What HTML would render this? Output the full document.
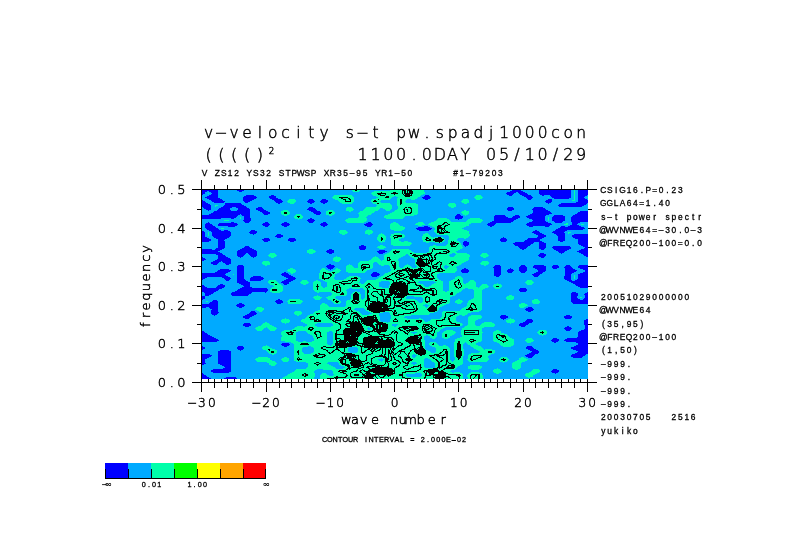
<!DOCTYPE html>
<html><head><meta charset="utf-8"><style>
html,body{margin:0;padding:0;background:#fff;width:789px;height:558px;overflow:hidden}
svg{display:block}
</style></head><body>
<svg xmlns="http://www.w3.org/2000/svg" width="789" height="558" viewBox="0 0 789 558">
<rect width="789" height="558" fill="#fff"/>
<g shape-rendering="crispEdges">
<rect x="201.95" y="189.75" width="386.05" height="189.14" fill="#00aaff"/>
<path d="M205.2,189.8 208.4,189.8 211.6,189.8 214.8,189.8 218.0,189.8 218.1,189.8 218.1,191.7 218.1,193.6 218.0,195.4 218.0,195.5 217.9,197.5 218.0,197.6 221.2,199.4 221.4,199.4 224.4,201.1 224.6,201.3 224.4,203.2 221.2,203.2 218.0,203.2 214.8,203.1 211.9,201.3 211.6,200.9 209.3,199.4 208.4,199.1 205.5,197.5 208.4,195.9 209.5,195.5 211.6,194.2 212.0,193.6 211.6,193.0 209.9,191.7 208.4,191.1 206.6,191.7 205.2,192.7 204.5,193.6 202.0,195.3 202.0,193.6 202.0,191.7 202.0,189.8 205.2,189.8ZM237.3,189.8 240.5,189.8 243.7,189.8 244.3,189.8 243.7,190.5 241.7,191.7 240.5,192.1 239.1,191.7 237.3,190.6 236.6,189.8 237.3,189.8ZM510.2,191.4 513.2,189.8 513.4,189.8 516.6,189.8 519.8,189.8 520.1,189.8 523.0,191.5 523.9,191.7 526.3,193.0 526.8,193.6 529.5,195.2 530.7,195.5 532.7,196.7 533.3,197.5 532.7,198.3 531.0,199.4 529.5,199.9 527.9,199.4 526.3,198.3 525.6,197.5 523.0,195.9 522.1,195.5 519.8,194.1 519.5,193.6 516.6,191.8 513.9,193.6 513.4,194.3 511.6,195.5 510.2,196.0 508.6,195.5 507.0,194.6 506.2,193.6 507.0,192.7 509.1,191.7 510.2,191.4ZM539.1,190.8 539.2,189.8 542.3,189.8 545.5,189.8 548.7,189.8 551.9,189.8 555.2,189.8 558.4,189.8 561.6,189.8 564.8,189.8 568.0,189.8 570.7,189.8 570.7,191.7 570.7,193.6 570.9,195.5 571.1,197.5 568.0,199.4 564.8,199.3 561.6,199.2 558.4,199.2 555.2,199.3 552.3,197.5 551.9,196.9 549.9,195.5 548.7,195.2 545.5,195.4 544.2,195.5 542.3,195.7 541.9,195.5 539.1,193.9 538.9,193.6 539.0,191.7 539.1,190.8ZM580.8,189.8 584.4,189.8 588.0,189.8 588.0,191.7 588.0,193.6 588.0,195.1 586.5,195.5 584.4,196.9 583.9,197.5 584.4,198.0 587.0,199.4 588.0,199.7 588.0,201.3 588.0,203.2 587.8,203.3 584.5,205.2 584.4,205.3 581.0,207.1 580.8,207.2 577.6,207.2 574.4,207.2 571.2,207.2 568.0,207.3 564.8,207.4 561.6,207.5 560.3,207.1 558.4,206.0 557.7,205.2 558.4,204.6 561.1,203.3 561.6,203.1 564.8,203.2 568.0,203.2 569.5,203.3 571.2,203.3 574.4,203.4 574.8,203.3 577.6,201.7 578.0,201.3 577.9,199.4 577.9,197.5 577.9,195.5 578.0,193.6 578.1,191.7 578.1,189.8 580.8,189.8ZM246.9,195.3 250.1,195.3 253.3,195.2 254.5,195.5 256.5,196.7 257.2,197.5 256.5,198.2 254.2,199.4 253.3,199.6 250.3,201.3 250.1,201.6 247.1,203.3 246.9,203.3 246.8,203.3 243.7,201.4 243.6,201.3 243.4,199.4 243.2,197.5 243.7,196.9 246.1,195.5 246.9,195.3ZM272.6,195.0 274.2,195.5 275.8,196.6 276.4,197.5 279.0,199.0 280.6,199.4 282.2,200.2 283.2,201.3 282.2,202.5 280.8,203.3 279.0,203.8 277.4,203.3 275.8,202.2 275.2,201.3 272.6,199.8 271.2,199.4 269.4,198.4 268.6,197.5 269.4,196.5 270.9,195.5 272.6,195.0ZM426.7,194.7 429.1,195.5 429.9,196.1 431.0,197.5 429.9,198.7 428.8,199.4 426.7,200.0 424.1,199.4 423.5,199.1 421.9,197.5 423.5,196.5 425.2,195.5 426.7,194.7ZM311.1,198.8 312.8,199.4 314.3,200.4 315.1,201.3 314.3,202.2 312.6,203.3 311.1,203.7 309.6,203.3 307.9,202.4 307.0,201.3 307.9,200.2 309.3,199.4 311.1,198.8ZM324.0,198.8 326.0,199.4 327.2,200.0 328.3,201.3 327.2,202.6 325.9,203.3 324.0,203.8 322.3,203.3 320.8,202.2 320.0,201.3 320.8,200.4 322.3,199.4 324.0,198.8ZM548.7,199.3 551.9,199.4 551.9,199.4 552.3,201.3 551.9,201.8 549.9,203.3 548.7,203.6 547.5,203.3 545.5,202.2 544.7,201.3 545.5,200.6 548.3,199.4 548.7,199.3ZM204.7,201.3 205.2,201.9 207.6,203.3 208.4,203.5 211.4,205.2 211.4,207.1 211.5,209.0 208.4,210.9 205.2,209.1 205.1,209.0 202.4,207.1 202.0,207.0 202.0,205.2 202.0,203.3 202.0,201.3 202.0,199.6 204.7,201.3ZM407.5,201.3 407.6,201.3 407.5,201.3 407.4,201.3 407.5,201.3ZM227.6,203.2 230.8,203.2 234.1,203.2 237.1,203.3 237.3,203.3 240.5,203.3 243.6,205.2 243.7,205.3 246.7,207.1 246.9,207.2 250.1,209.0 250.2,209.0 250.1,210.9 250.1,211.0 250.0,212.9 250.1,213.9 250.2,214.8 250.3,216.8 250.6,218.7 250.8,220.6 250.1,221.5 248.5,222.6 246.9,223.1 245.5,222.6 243.7,221.1 243.4,220.6 243.6,218.7 243.7,218.2 243.9,216.8 243.7,216.5 241.6,214.8 240.5,214.4 239.2,214.8 237.3,216.3 236.9,216.8 234.1,218.7 230.8,218.5 227.6,218.4 224.4,218.4 221.2,218.5 218.0,218.5 214.8,218.6 211.6,218.7 209.9,218.7 208.4,218.7 205.2,218.8 202.0,218.8 202.0,218.7 202.0,216.8 202.0,214.8 202.0,214.7 205.2,214.8 206.7,214.8 208.4,214.9 208.5,214.8 211.6,213.4 212.1,212.9 214.8,211.3 215.9,211.0 218.0,209.6 218.4,209.0 221.2,207.3 222.0,207.1 224.4,205.5 224.6,205.2 224.6,203.3 227.6,203.2ZM232.8,207.1 230.8,208.1 229.9,209.0 230.8,210.2 232.2,211.0 234.1,211.5 235.9,211.0 237.3,210.1 238.2,209.0 237.3,208.1 235.3,207.1 234.1,206.8 232.8,207.1ZM259.7,206.6 261.3,207.1 263.0,208.2 263.6,209.0 266.2,210.6 267.6,211.0 269.4,212.0 270.2,212.9 269.4,213.9 267.8,214.8 266.2,215.3 264.6,214.8 263.0,213.8 262.3,212.9 259.7,211.4 258.6,211.0 256.5,209.6 256.1,209.0 256.5,208.4 258.4,207.1 259.7,206.6ZM311.1,206.7 312.4,207.1 314.3,208.3 315.0,209.0 317.5,210.6 319.1,211.0 320.8,211.8 321.8,212.9 320.8,214.0 319.1,214.8 317.5,215.2 316.3,214.8 314.3,213.7 313.7,212.9 311.1,211.4 309.6,211.0 307.9,210.0 307.1,209.0 307.9,208.1 309.8,207.1 311.1,206.7ZM510.2,206.6 512.1,207.1 513.4,207.9 514.3,209.1 513.4,210.0 511.6,211.0 510.2,211.3 508.9,211.0 507.0,210.0 506.1,209.1 507.0,207.9 508.3,207.1 510.2,206.6ZM535.9,206.9 539.1,207.0 542.3,207.1 542.5,207.1 545.5,209.0 545.6,209.0 548.7,210.9 548.9,211.0 551.9,212.8 552.0,212.9 551.9,213.5 548.7,214.6 547.9,214.8 545.5,216.0 544.8,216.8 544.8,218.7 544.8,220.6 545.5,221.3 548.3,222.6 548.7,222.7 551.9,223.9 552.0,224.5 551.9,224.6 549.1,226.4 548.7,226.6 545.5,226.5 544.0,226.4 542.3,226.4 539.1,226.4 535.9,226.4 534.8,226.4 532.7,226.5 529.5,226.6 528.6,226.4 526.3,225.3 525.6,224.5 526.3,223.8 529.3,222.6 529.5,222.5 532.7,221.3 533.4,220.6 532.7,219.9 529.7,218.7 529.5,218.7 526.3,217.2 525.9,216.8 526.3,216.3 529.3,214.8 529.5,214.8 532.7,213.3 533.1,212.9 532.7,211.0 532.7,211.0 532.3,209.0 532.7,208.6 535.1,207.1 535.9,206.9ZM577.6,212.8 580.8,211.0 584.4,211.1 588.0,211.1 588.0,212.9 588.0,214.8 588.0,216.8 588.0,218.7 588.0,220.6 588.0,222.4 584.4,222.3 580.8,222.1 579.7,222.6 577.6,223.9 577.1,224.5 577.6,225.0 580.7,226.4 580.8,226.5 584.4,227.7 585.2,228.3 584.4,229.0 581.0,230.3 580.8,230.3 577.9,230.3 577.6,230.3 574.4,230.2 571.2,230.2 568.0,230.1 567.3,230.3 564.8,231.8 564.4,232.2 564.6,234.1 564.8,235.5 564.9,236.1 565.1,238.0 565.3,239.9 564.8,240.5 562.3,241.9 561.6,242.1 560.8,241.9 558.4,240.6 557.7,239.9 558.0,238.0 558.3,236.1 555.2,234.2 555.0,234.1 551.9,232.6 551.6,232.2 551.9,231.8 555.0,230.3 555.2,230.2 558.3,228.3 558.4,228.3 561.4,226.4 561.6,226.4 562.6,226.4 564.8,226.5 568.0,226.6 568.7,226.4 571.2,225.0 571.7,224.5 571.6,222.6 571.4,220.6 571.4,218.7 571.3,216.8 574.3,214.8 574.4,214.8 577.6,212.9 577.6,212.8ZM458.8,214.1 460.2,214.8 462.0,215.9 463.5,216.8 462.0,218.7 462.0,218.7 458.8,219.7 455.7,218.7 455.6,218.7 454.4,216.8 455.6,215.4 456.5,214.8 458.8,214.1ZM497.4,214.6 500.6,214.7 503.8,214.8 503.9,214.8 506.9,216.8 507.0,216.9 510.2,218.7 513.1,216.8 513.4,216.3 515.5,214.8 516.6,214.5 517.9,214.8 519.8,216.0 520.5,216.8 519.8,217.5 517.9,218.7 516.6,219.1 513.8,220.6 513.4,221.1 511.0,222.6 510.2,222.8 507.0,222.7 503.8,222.6 500.6,222.6 497.4,222.6 494.6,224.5 494.2,225.2 492.4,226.4 490.9,226.9 489.2,226.4 487.7,225.6 486.7,224.5 487.7,223.4 489.7,222.6 490.9,222.3 494.1,220.6 493.9,218.7 493.8,216.8 494.2,216.3 496.5,214.8 497.4,214.6ZM555.2,214.8 558.4,214.7 561.6,214.6 562.3,214.8 564.8,216.7 564.9,216.8 564.8,218.6 564.8,218.7 564.7,220.6 561.7,222.6 561.6,222.6 558.6,222.6 558.4,222.6 555.2,222.5 552.3,220.6 552.3,218.7 552.3,216.8 554.2,214.8 555.2,214.8ZM311.1,218.2 312.6,218.7 314.3,219.7 315.1,220.6 314.3,221.6 312.8,222.6 311.1,223.1 309.2,222.6 307.9,221.9 306.8,220.6 307.9,219.4 309.3,218.7 311.1,218.2ZM208.4,222.4 208.8,222.6 211.6,224.3 211.8,224.5 214.4,226.4 214.8,226.6 217.5,228.3 218.0,229.0 220.0,230.3 221.2,230.7 224.4,230.5 227.6,230.3 230.8,231.8 231.2,232.2 231.2,234.1 231.1,236.1 230.8,236.3 227.6,238.0 227.5,238.0 224.4,239.8 224.3,239.9 224.4,240.6 224.6,241.9 224.8,243.8 224.9,245.7 224.9,247.7 224.4,248.2 222.0,249.6 221.2,249.8 218.2,251.5 221.2,253.3 221.7,253.4 224.4,255.1 224.6,255.4 227.6,257.2 228.1,257.3 230.8,259.0 231.1,259.2 231.1,261.2 231.2,263.1 230.8,263.5 228.3,265.0 227.6,265.2 227.0,265.0 224.4,263.3 224.2,263.1 221.4,261.2 221.2,261.1 221.1,261.2 218.3,263.1 218.0,263.5 215.9,265.0 214.8,265.4 213.4,265.0 211.6,263.9 210.9,263.1 211.6,262.4 213.8,261.2 214.8,260.9 217.9,259.2 217.9,257.3 217.9,255.4 214.8,253.5 211.6,253.5 208.4,253.6 205.2,253.5 202.0,253.5 202.0,253.4 202.0,251.5 202.0,249.6 202.0,249.4 205.2,249.4 208.4,249.4 211.6,249.5 214.8,249.5 217.8,247.7 217.8,245.7 217.8,243.8 218.0,241.9 218.0,241.9 218.2,239.9 218.0,239.6 215.6,238.0 214.8,237.8 212.1,236.1 212.1,234.1 212.1,232.2 211.6,231.6 209.1,230.3 208.4,230.1 205.2,228.3 205.2,227.8 204.9,226.4 204.6,224.5 205.2,224.0 207.9,222.6 208.4,222.4ZM221.2,222.5 224.2,222.6 224.4,222.6 227.6,222.6 228.8,222.6 230.8,222.5 234.1,222.4 234.8,222.6 237.3,223.8 237.9,224.5 237.3,225.3 235.2,226.4 234.1,226.7 230.8,226.6 227.6,226.5 224.6,226.4 224.4,226.4 221.2,226.4 218.0,225.6 217.8,224.5 218.0,224.3 221.1,222.6 221.2,222.5ZM266.2,222.0 268.0,222.6 269.4,223.4 270.3,224.5 269.4,225.6 268.0,226.4 266.2,227.0 264.4,226.4 263.0,225.6 262.0,224.5 263.0,223.4 264.3,222.6 266.2,222.0ZM285.4,222.0 287.4,222.6 288.6,223.3 289.6,224.5 288.6,225.6 287.3,226.4 285.4,227.0 283.6,226.4 282.2,225.6 281.3,224.5 282.2,223.4 283.6,222.6 285.4,222.0ZM324.0,222.0 325.8,222.6 327.2,223.4 328.1,224.5 327.2,225.6 325.8,226.4 324.0,227.0 322.2,226.4 320.8,225.5 320.0,224.5 320.8,223.5 322.3,222.6 324.0,222.0ZM368.9,221.7 371.3,222.6 372.1,223.1 373.2,224.5 372.1,225.8 371.3,226.4 368.9,227.2 366.4,226.4 365.7,226.1 364.3,224.5 365.7,223.6 367.4,222.6 368.9,221.7ZM426.7,225.7 428.2,226.4 429.9,227.3 431.8,228.3 429.9,230.2 429.7,230.3 426.7,230.9 423.5,230.9 420.3,230.8 418.4,230.3 417.1,229.6 416.0,228.4 417.1,227.6 420.3,227.0 423.5,226.5 424.0,226.4 426.7,225.7ZM253.3,229.7 255.1,230.3 256.5,231.1 257.5,232.2 256.5,233.3 255.1,234.1 253.3,234.7 251.5,234.1 250.1,233.3 249.2,232.2 250.1,231.1 251.5,230.3 253.3,229.7ZM535.9,230.1 536.6,230.3 539.1,231.6 539.7,232.2 542.3,233.8 543.4,234.1 545.5,235.4 546.0,236.1 545.5,236.7 543.1,238.0 542.3,238.2 539.2,239.9 542.3,241.6 543.1,241.9 545.5,243.3 545.9,243.8 545.9,245.7 546.0,247.6 545.5,248.2 543.5,249.6 542.3,250.0 541.1,249.6 539.1,248.3 538.6,247.6 538.8,245.7 539.0,243.8 538.4,241.9 535.9,241.7 535.5,241.9 532.7,243.5 532.5,243.8 529.6,245.7 529.5,245.8 526.5,247.7 526.3,248.0 524.1,249.6 523.0,249.9 522.0,249.6 519.8,248.0 519.6,247.7 516.6,245.9 515.8,245.7 513.4,244.4 512.9,243.8 513.4,243.2 515.6,241.9 516.6,241.5 519.8,241.7 522.2,241.9 523.0,241.9 523.2,241.9 526.2,239.9 526.3,239.8 529.0,238.0 529.5,237.9 532.7,238.0 534.2,238.0 535.9,238.0 536.0,238.0 538.9,236.1 535.9,234.3 535.1,234.1 532.7,233.0 531.9,232.2 532.7,231.4 535.1,230.3 535.9,230.1ZM204.8,232.2 204.7,234.1 204.5,236.1 205.2,236.7 207.9,238.0 208.4,238.1 211.5,239.9 209.0,241.9 208.4,242.1 205.2,242.0 202.0,241.9 202.0,241.9 202.0,239.9 202.0,238.0 202.0,236.1 202.0,234.1 202.0,232.2 202.0,230.3 204.8,232.2ZM279.0,233.6 280.8,234.1 282.2,235.1 283.0,236.1 282.2,237.0 280.7,238.0 279.0,238.6 277.3,238.0 275.8,237.0 275.1,236.1 275.8,235.1 277.2,234.1 279.0,233.6ZM574.4,234.1 575.9,234.1 577.6,234.2 580.8,234.3 584.4,234.3 588.0,234.3 588.0,236.1 588.0,238.0 588.0,239.9 588.0,241.9 588.0,243.8 588.0,245.7 588.0,247.7 588.0,249.6 588.0,251.5 588.0,253.4 588.0,255.4 588.0,257.3 588.0,257.4 587.5,257.3 584.4,255.5 584.3,255.4 580.8,253.6 580.3,253.4 577.6,252.0 577.2,251.5 577.6,251.1 580.8,249.6 581.1,249.6 584.4,248.4 585.3,247.7 584.4,246.9 581.5,245.7 580.8,245.6 577.6,243.9 577.6,243.8 577.6,243.2 577.8,241.9 578.1,239.9 577.6,239.5 574.4,238.1 574.0,238.0 571.2,236.3 571.0,236.1 571.2,235.9 574.3,234.1 574.4,234.1ZM266.2,237.4 267.9,238.0 269.4,239.0 270.1,239.9 269.4,240.9 267.9,241.9 266.2,242.4 264.3,241.9 263.0,241.0 262.0,239.9 263.0,238.9 264.4,238.0 266.2,237.4ZM291.9,237.4 293.7,238.0 295.1,238.8 296.0,239.9 295.1,241.0 293.7,241.9 291.9,242.4 290.1,241.9 288.6,240.9 287.9,239.9 288.6,239.0 290.2,238.0 291.9,237.4ZM503.8,237.4 505.6,238.0 507.0,238.9 507.7,239.9 507.0,240.9 505.5,241.9 503.8,242.4 501.9,241.9 500.6,241.0 499.6,239.9 500.6,238.8 501.9,238.0 503.8,237.4ZM465.3,240.8 468.0,241.9 468.5,242.2 469.6,243.8 468.5,245.3 467.8,245.7 465.3,246.6 464.2,245.7 462.7,243.8 463.3,241.9 465.3,240.8ZM246.9,245.4 247.9,245.7 250.1,247.3 250.3,247.7 253.3,249.4 253.8,249.6 256.5,251.0 256.9,251.5 257.0,253.4 257.1,255.4 256.5,256.1 254.7,257.3 253.3,257.7 252.2,257.3 250.1,255.5 250.1,255.4 247.5,253.4 246.9,253.2 246.3,253.4 243.8,255.4 243.7,255.5 241.6,257.3 240.5,257.7 239.3,257.3 237.3,255.8 236.9,255.4 236.9,253.4 236.9,251.5 237.3,251.0 240.0,249.6 240.5,249.4 243.5,247.7 243.7,247.3 245.9,245.7 246.9,245.4ZM362.5,245.2 364.4,245.7 365.7,246.5 366.6,247.7 365.7,248.8 364.4,249.6 362.5,250.1 360.6,249.6 359.3,248.8 358.4,247.7 359.3,246.5 360.6,245.7 362.5,245.2ZM555.2,245.5 558.4,245.6 561.6,245.7 564.8,245.6 568.0,245.5 568.7,245.7 571.2,247.2 571.6,247.7 571.2,248.1 568.7,249.6 568.0,249.8 565.0,251.5 564.8,251.8 562.6,253.4 561.6,253.8 560.5,253.4 558.4,251.8 558.2,251.5 555.2,249.8 554.5,249.6 551.9,248.1 551.6,247.7 551.9,247.2 554.5,245.7 555.2,245.5ZM330.4,249.0 332.2,249.6 333.6,250.4 334.5,251.5 333.6,252.7 332.5,253.4 330.4,254.1 328.3,253.4 327.2,252.7 326.2,251.5 327.2,250.4 328.5,249.6 330.4,249.0ZM378.6,250.6 381.8,250.0 385.0,250.4 386.9,251.5 385.0,252.6 383.6,253.4 381.8,254.5 378.9,253.4 378.6,253.2 377.3,251.5 378.6,250.6ZM542.3,253.0 543.8,253.4 545.5,254.4 546.5,255.4 545.5,256.5 544.2,257.3 542.3,257.9 540.5,257.3 539.1,256.5 538.2,255.4 539.1,254.3 540.7,253.4 542.3,253.0ZM452.4,255.4 452.4,255.4 452.4,255.4 452.4,255.4 452.4,255.4ZM202.4,257.3 205.2,258.6 205.8,259.2 205.2,260.0 203.2,261.2 202.0,261.5 202.0,261.2 202.0,259.2 202.0,257.3 202.0,257.2 202.4,257.3ZM240.5,264.5 242.1,265.0 243.7,266.1 244.3,266.9 244.2,268.9 244.0,270.8 244.0,272.7 243.9,274.7 243.8,276.6 243.7,277.5 243.6,278.5 243.7,278.6 246.5,280.5 246.9,280.6 250.0,282.4 249.9,284.3 249.7,286.2 250.1,286.7 252.8,288.2 253.3,288.3 255.8,288.2 256.5,288.1 259.7,288.0 263.0,287.7 266.2,287.5 267.3,288.2 268.2,290.1 267.1,292.0 266.2,292.6 263.0,292.4 259.7,292.3 256.5,292.1 254.5,292.0 253.3,292.0 253.2,292.0 250.1,293.9 250.0,294.0 247.4,295.9 246.9,296.0 243.7,296.0 240.5,295.9 237.3,296.1 234.1,296.2 232.9,295.9 230.8,294.8 230.1,294.0 230.8,293.2 233.2,292.0 234.1,291.8 237.3,290.2 237.4,290.1 240.5,288.4 241.2,288.2 243.7,286.7 244.1,286.2 243.7,285.8 240.7,284.3 240.5,284.3 237.3,282.6 237.1,282.4 237.1,280.5 237.2,278.5 237.2,276.6 237.2,274.7 237.1,272.7 237.1,270.8 237.0,268.9 236.9,266.9 237.3,266.5 239.1,265.0 240.5,264.5ZM330.4,264.2 333.0,265.0 333.6,265.4 334.9,266.9 333.6,267.9 332.2,268.9 330.4,270.1 328.6,268.9 327.2,267.9 325.9,266.9 327.2,265.4 327.9,265.0 330.4,264.2ZM497.4,264.5 498.9,265.0 500.6,266.3 501.1,266.9 500.9,268.9 500.8,270.8 500.9,272.7 501.1,274.7 500.6,275.4 498.9,276.6 497.4,277.1 495.8,276.6 494.2,275.5 493.5,274.7 493.7,272.7 493.8,270.8 493.6,268.9 493.3,266.9 494.2,265.9 495.6,265.0 497.4,264.5ZM523.0,264.5 524.5,265.0 526.3,266.3 526.7,266.9 526.7,268.9 526.6,270.8 526.3,271.3 524.4,272.7 523.0,273.2 521.6,272.7 519.8,271.5 519.4,270.8 519.4,268.9 519.4,266.9 519.8,266.3 521.5,265.0 523.0,264.5ZM535.9,264.7 539.1,264.7 542.3,264.7 543.3,265.0 545.5,266.5 545.9,266.9 545.8,268.9 545.7,270.8 545.5,271.1 543.1,272.7 542.3,273.0 539.7,274.7 539.1,275.6 537.7,276.6 535.9,277.2 534.0,276.6 532.7,275.6 532.0,274.7 532.7,274.0 535.2,272.7 535.9,272.5 539.0,270.8 535.9,269.0 535.5,268.9 532.7,267.3 532.3,266.9 532.7,266.5 534.9,265.0 535.9,264.7ZM555.2,264.5 556.8,265.0 558.4,266.1 559.0,266.9 558.4,267.7 556.7,268.9 555.2,269.4 553.6,268.9 551.9,267.7 551.4,266.9 551.9,266.1 553.5,265.0 555.2,264.5ZM568.0,264.6 569.2,265.0 571.2,266.6 571.4,266.9 574.0,268.9 574.4,269.0 577.1,270.8 574.4,272.4 573.6,272.7 571.2,274.4 571.0,274.7 571.1,276.6 571.1,278.5 571.2,279.6 571.7,280.5 574.4,280.7 575.3,280.5 577.6,279.3 578.3,278.5 578.2,276.6 578.1,274.7 580.8,273.0 582.2,272.7 584.4,271.8 585.4,270.8 584.4,270.0 581.4,268.9 580.8,268.8 577.6,267.4 577.6,266.9 577.6,266.9 580.1,265.0 580.8,264.8 584.4,264.9 588.0,265.0 588.0,265.0 588.0,266.9 588.0,268.9 588.0,270.8 588.0,272.7 588.0,274.7 588.0,276.6 588.0,278.5 588.0,280.5 588.0,282.4 588.0,284.3 588.0,286.2 588.0,288.0 584.4,288.0 580.8,288.1 577.6,286.3 577.6,286.2 574.4,284.4 574.3,284.3 571.2,282.7 571.0,282.4 568.0,280.8 566.9,280.5 564.8,279.2 564.3,278.5 564.4,276.6 564.6,274.7 564.7,272.7 564.7,270.8 564.6,268.9 564.4,266.9 564.8,266.5 566.8,265.0 568.0,264.6ZM446.0,266.8 446.3,266.9 446.0,267.1 445.8,266.9 446.0,266.8ZM221.2,268.8 224.4,268.8 227.6,268.7 228.3,268.9 230.8,270.6 231.1,270.8 230.8,271.0 228.0,272.7 227.6,272.9 224.4,274.6 224.3,274.7 224.4,274.7 227.6,276.4 228.3,276.6 230.8,278.2 231.2,278.5 230.8,279.0 228.8,280.5 227.6,280.8 226.4,280.5 224.4,279.2 223.9,278.5 221.2,276.6 218.0,276.7 214.8,276.7 211.6,276.7 208.4,276.6 205.2,278.4 205.1,278.5 202.0,280.4 202.0,278.5 202.0,276.6 202.0,274.7 202.0,272.7 202.0,272.7 205.2,272.7 208.4,272.6 211.6,272.7 214.8,272.7 217.9,270.8 218.0,270.7 221.1,268.9 221.2,268.8ZM465.3,268.2 467.3,268.9 468.5,269.6 469.4,270.8 468.5,272.0 467.3,272.7 465.3,273.4 462.8,272.7 462.0,272.3 460.7,270.8 462.0,269.1 462.5,268.9 465.3,268.2ZM510.2,268.3 511.8,268.9 513.4,270.0 514.0,270.8 513.4,271.6 511.8,272.7 510.2,273.3 508.7,272.7 507.0,271.4 506.6,270.8 507.0,270.2 508.7,268.9 510.2,268.3ZM285.4,272.1 286.6,272.7 288.6,274.0 289.6,274.7 291.9,276.2 293.4,276.6 295.1,277.5 296.0,278.5 295.1,279.5 293.1,280.5 291.9,280.8 289.4,282.4 288.6,283.5 287.6,284.3 285.4,285.1 284.1,284.3 282.2,283.2 280.9,282.4 282.2,281.1 283.9,280.5 285.4,280.1 288.3,278.5 285.4,277.0 284.0,276.6 282.2,275.7 281.3,274.7 282.2,273.5 283.4,272.7 285.4,272.1ZM375.3,272.0 378.0,272.7 378.6,273.0 380.2,274.7 378.6,275.7 377.0,276.6 375.3,277.6 372.5,276.6 372.1,276.4 370.9,274.7 372.1,273.1 372.7,272.7 375.3,272.0ZM253.3,276.3 256.5,276.2 259.7,276.2 261.2,276.6 263.0,277.5 264.0,278.5 263.0,279.6 261.3,280.5 259.7,280.8 256.5,280.7 253.3,280.6 250.2,280.5 250.1,280.3 250.1,278.5 250.1,278.4 252.5,276.6 253.3,276.3ZM221.2,283.9 222.6,284.3 224.4,285.3 225.2,286.2 224.4,287.2 222.6,288.2 221.2,288.6 218.4,290.1 218.0,290.6 215.3,292.0 214.8,292.2 211.7,294.0 211.6,294.1 208.5,295.9 208.4,295.9 205.4,295.9 205.5,294.0 205.2,293.5 202.9,292.0 201.9,291.7 202.0,290.1 202.0,288.2 202.0,286.2 202.0,284.4 205.1,286.2 205.2,286.4 208.2,288.2 208.4,288.2 210.1,288.2 211.6,288.1 214.8,288.0 217.5,286.2 218.0,285.6 219.9,284.3 221.2,283.9ZM324.0,286.0 324.0,286.2 324.0,286.3 324.0,286.2 324.0,286.0ZM523.0,287.5 525.2,288.2 526.3,288.9 527.2,290.1 526.3,291.2 524.9,292.0 523.0,292.6 521.1,292.0 519.8,291.3 518.9,290.1 519.8,288.9 521.0,288.2 523.0,287.5ZM446.0,289.9 446.0,290.1 446.0,290.1 446.0,290.1 446.0,289.9ZM574.4,291.7 575.5,292.0 577.6,293.5 578.0,294.0 577.6,295.9 577.6,295.9 577.3,297.8 577.6,298.2 580.0,299.8 580.8,300.0 582.0,299.8 584.4,298.6 585.3,297.8 584.8,295.9 584.4,294.3 584.3,294.0 584.4,293.9 588.0,292.1 588.0,294.0 588.0,295.9 588.0,297.8 588.0,299.8 588.0,301.7 588.0,303.6 588.0,303.7 584.4,303.7 580.8,303.7 577.6,303.8 574.4,303.9 573.3,303.6 571.2,302.3 570.7,301.7 570.8,299.8 571.0,297.8 570.8,295.9 570.6,294.0 571.2,293.2 573.1,292.0 574.4,291.7ZM205.2,295.9 205.5,297.8 205.2,298.2 202.1,299.8 202.0,299.8 202.0,299.8 202.0,297.8 201.9,295.9 205.2,295.9ZM362.5,297.7 362.5,297.8 362.5,297.8 362.5,297.8 362.5,297.7ZM407.5,297.8 407.7,297.8 407.5,297.8 407.4,297.8 407.5,297.8ZM214.8,299.4 215.9,299.8 218.0,301.0 218.5,301.7 218.4,303.6 218.2,305.6 218.2,307.5 218.2,309.4 218.4,311.3 218.6,313.3 218.0,314.1 216.4,315.2 214.8,315.7 213.2,315.2 211.6,314.1 210.9,313.3 211.3,311.3 211.6,309.8 211.7,309.4 211.6,309.3 208.8,307.5 208.4,307.3 205.9,307.5 205.2,307.5 201.9,307.7 202.0,307.5 202.0,305.6 202.0,303.6 202.0,303.6 203.4,303.6 205.2,303.7 208.4,303.8 208.8,303.6 211.5,301.7 211.6,301.6 213.9,299.8 214.8,299.4ZM279.0,299.2 281.1,299.8 282.2,300.4 283.3,301.7 282.2,303.0 281.1,303.6 279.0,304.2 277.2,303.6 275.8,302.8 274.9,301.7 275.8,300.6 277.2,299.8 279.0,299.2ZM240.5,303.1 242.3,303.6 243.7,304.4 244.6,305.6 243.7,306.6 242.3,307.5 240.5,308.0 238.6,307.5 237.3,306.7 236.3,305.6 237.3,304.4 238.6,303.6 240.5,303.1ZM426.7,305.5 426.7,305.6 426.7,305.6 426.7,305.6 426.7,305.5ZM529.5,306.6 532.0,307.5 532.7,308.0 533.7,309.4 532.7,310.6 531.5,311.3 529.5,312.0 527.3,311.3 526.3,310.8 525.0,309.4 526.3,308.6 528.0,307.5 529.5,306.6ZM253.3,310.7 254.5,311.3 256.5,312.5 257.7,313.3 256.5,314.5 255.1,315.2 253.3,315.7 250.8,317.1 250.1,317.9 248.2,319.1 246.9,319.4 245.6,319.1 243.7,318.0 242.9,317.1 243.7,316.2 245.5,315.2 246.9,314.8 249.4,313.3 250.1,312.3 251.4,311.3 253.3,310.7ZM503.8,314.6 505.9,315.2 507.0,315.8 508.2,317.1 507.0,317.9 505.1,319.1 503.8,319.8 501.5,319.1 500.6,318.5 499.5,317.1 500.6,315.9 501.7,315.2 503.8,314.6ZM568.0,314.6 569.9,315.2 571.2,316.0 572.1,317.1 571.2,318.2 569.9,319.1 568.0,319.6 566.1,319.1 564.8,318.2 563.9,317.1 564.8,316.0 566.1,315.2 568.0,314.6ZM407.5,317.1 407.9,317.1 407.5,317.1 407.4,317.1 407.5,317.1ZM529.5,318.6 531.1,319.1 532.7,320.0 533.5,321.0 532.7,321.9 530.9,322.9 529.5,323.3 526.9,324.9 526.3,325.7 524.6,326.8 523.0,327.3 521.3,326.8 519.8,326.0 518.8,324.9 519.8,323.7 521.5,322.9 523.0,322.5 525.6,321.0 526.3,320.1 527.9,319.1 529.5,318.6ZM588.0,318.8 588.0,319.1 588.0,321.0 588.0,322.9 588.0,324.9 588.0,326.8 588.0,328.7 588.0,330.6 588.0,332.6 588.0,334.5 588.0,336.4 588.0,338.4 588.0,340.3 588.0,342.2 588.0,344.1 588.0,346.1 588.0,348.0 588.0,349.9 588.0,351.9 588.0,353.5 587.2,353.8 584.5,355.7 584.4,355.8 581.7,357.7 580.8,357.9 577.6,357.9 574.4,358.0 573.3,357.7 571.2,356.5 570.5,355.7 571.2,355.0 574.3,353.8 574.4,353.8 577.6,352.4 578.2,351.9 577.6,351.3 574.6,349.9 574.4,349.9 571.2,348.6 570.6,348.0 571.2,347.5 574.4,346.2 575.0,346.1 577.6,345.0 578.5,344.1 577.6,343.3 575.3,342.2 574.4,342.0 571.7,342.2 571.2,342.3 568.0,342.5 567.0,342.2 564.8,341.0 564.2,340.3 564.8,339.5 566.7,338.4 568.0,338.0 571.2,338.2 572.8,338.4 574.4,338.5 575.0,338.4 577.6,337.0 578.2,336.4 577.9,334.5 577.6,333.0 577.6,332.6 577.6,332.5 580.8,330.7 581.1,330.6 584.4,329.2 584.9,328.7 584.7,326.8 584.5,324.9 584.4,324.2 584.2,322.9 584.0,321.0 584.4,320.5 587.1,319.1 588.0,318.8ZM246.9,322.5 248.5,322.9 250.1,323.7 251.2,324.9 250.1,326.1 248.9,326.8 246.9,327.3 245.0,326.8 243.7,326.0 242.8,324.9 243.7,323.8 245.3,322.9 246.9,322.5ZM317.5,324.8 318.0,324.9 317.5,324.9 317.5,324.9 317.5,324.8ZM330.4,324.8 330.4,324.9 330.4,324.9 330.0,324.9 330.4,324.8ZM394.6,324.8 394.6,324.9 394.6,324.9 394.6,324.9 394.6,324.8ZM568.0,326.2 569.8,326.8 571.2,327.7 572.0,328.7 571.2,329.6 569.6,330.6 568.0,331.2 566.1,330.6 564.8,329.8 563.9,328.7 564.8,327.6 566.1,326.8 568.0,326.2ZM368.9,328.6 369.1,328.7 368.9,328.8 368.7,328.7 368.9,328.6ZM202.4,330.6 205.2,332.5 205.2,332.6 208.2,334.5 208.4,334.6 211.5,336.4 211.6,336.5 214.8,338.1 215.7,338.4 218.0,339.5 218.7,340.3 218.0,341.1 215.9,342.2 214.8,342.5 211.6,342.4 209.2,342.2 208.4,342.2 205.2,342.1 202.0,342.0 202.0,340.3 202.0,338.4 202.0,336.4 202.0,334.5 202.0,332.6 202.0,330.6 202.0,330.5 202.4,330.6ZM330.4,332.6 330.4,332.6 330.4,332.8 330.4,332.6 330.4,332.6ZM413.9,332.5 414.2,332.6 413.9,332.7 413.7,332.6 413.9,332.5ZM555.2,337.8 556.9,338.4 558.4,339.3 559.1,340.3 558.4,341.2 556.9,342.2 555.2,342.8 553.3,342.2 551.9,341.4 551.0,340.3 551.9,339.1 553.2,338.4 555.2,337.8ZM282.2,343.3 285.4,342.6 288.6,343.4 290.6,344.1 288.6,346.0 288.6,346.1 285.4,346.8 283.0,346.1 282.2,345.7 280.9,344.1 282.2,343.3ZM330.4,343.9 330.4,344.1 330.4,344.2 330.4,344.1 330.4,343.9ZM202.4,346.1 205.2,347.3 206.0,348.0 205.2,348.8 202.4,349.9 202.0,350.1 202.0,349.9 202.0,348.0 202.0,346.1 202.0,346.0 202.4,346.1ZM240.5,345.5 242.3,346.1 243.7,346.9 244.6,348.0 243.7,349.1 242.3,349.9 240.5,350.5 238.8,349.9 237.3,348.9 236.5,348.0 237.3,347.0 238.7,346.1 240.5,345.5ZM529.5,345.5 531.3,346.1 532.7,347.1 533.3,348.0 535.9,349.6 537.0,349.9 539.1,351.1 539.8,351.9 539.1,352.7 537.0,353.8 535.9,354.1 533.4,355.7 532.7,356.8 531.4,357.7 529.5,358.3 528.3,357.7 526.3,356.5 525.1,355.7 526.3,354.6 528.1,353.8 529.5,353.4 532.3,351.9 529.5,350.2 528.4,349.9 526.3,348.9 525.4,348.0 526.3,346.9 527.5,346.1 529.5,345.5ZM221.2,349.7 224.4,349.7 227.6,349.7 228.4,349.9 230.8,351.6 231.1,351.9 230.9,353.8 230.8,354.7 230.8,355.7 230.8,357.7 230.8,359.6 230.8,361.5 230.8,361.6 230.9,363.4 230.9,365.4 230.9,367.3 231.2,369.2 231.4,371.2 230.8,371.7 228.1,373.1 227.6,373.2 224.4,373.2 221.2,373.1 218.0,373.3 214.8,373.4 213.8,373.1 211.6,371.9 210.9,371.2 211.6,370.4 213.8,369.2 214.8,369.0 218.0,369.2 219.2,369.2 221.2,369.4 221.6,369.2 224.4,367.7 224.8,367.3 224.4,366.9 221.9,365.4 221.2,365.2 218.0,363.7 217.8,363.4 218.0,361.6 218.0,361.5 218.2,359.6 218.2,357.7 218.2,355.7 218.0,353.8 218.0,353.8 217.8,351.9 218.0,351.6 220.4,349.9 221.2,349.7ZM205.2,353.8 208.4,353.6 209.1,353.8 211.6,355.5 211.8,355.7 211.6,356.0 208.8,357.7 208.4,357.8 205.2,359.2 204.7,359.6 205.2,361.5 205.2,361.5 205.6,363.4 205.2,363.9 202.7,365.4 202.0,365.6 202.0,365.4 202.0,363.4 202.0,361.5 202.0,359.6 202.0,357.7 202.0,355.7 202.0,353.9 204.4,353.8 205.2,353.8ZM413.9,355.5 414.2,355.7 413.9,355.9 413.7,355.7 413.9,355.5ZM381.8,359.5 381.9,359.6 381.8,359.8 381.5,359.6 381.8,359.5ZM452.4,359.3 452.4,359.6 452.4,359.6 452.4,359.6 452.4,359.3ZM413.9,363.3 414.1,363.4 413.9,363.6 413.7,363.4 413.9,363.3ZM555.2,368.7 557.0,369.2 558.4,370.1 559.3,371.2 558.4,372.3 557.0,373.1 555.2,373.7 553.3,373.1 551.9,372.3 551.0,371.2 551.9,370.1 553.3,369.2 555.2,368.7ZM202.4,373.1 205.1,375.0 205.2,375.1 208.2,377.0 208.4,377.0 211.6,378.6 211.8,378.9 211.6,378.9 208.4,378.9 205.2,378.9 202.0,378.9 202.0,377.0 202.0,375.0 202.0,373.1 202.0,373.0 202.4,373.1ZM407.5,375.0 407.9,375.0 407.5,375.0 407.4,375.0 407.5,375.0ZM420.3,375.0 420.3,375.0 420.3,375.0 419.9,375.0 420.3,375.0ZM227.6,376.9 230.8,376.9 234.1,376.8 234.6,377.0 237.3,378.4 237.7,378.9 237.3,378.9 234.1,378.9 230.8,378.9 227.6,378.9 224.4,378.9 224.0,378.9 224.4,378.5 227.5,377.0 227.6,376.9Z" fill="#0000ff" fill-rule="evenodd"/>
<path d="M352.9,189.8 356.1,189.8 359.3,189.8 360.7,189.8 359.3,191.6 359.1,191.7 356.1,192.6 353.3,191.7 352.9,191.4 351.4,189.8 352.9,189.8ZM375.3,191.0 378.6,190.9 381.8,190.8 385.0,191.1 388.2,191.5 391.3,189.8 391.4,189.8 394.6,189.8 397.8,189.8 401.0,189.8 404.2,189.8 407.5,189.8 410.7,189.8 413.9,189.8 417.1,189.8 420.3,189.8 423.5,189.8 424.1,189.8 424.5,191.7 424.8,193.6 423.5,194.3 421.4,195.5 420.3,196.2 418.0,197.5 417.1,198.6 415.3,199.4 413.9,199.7 410.7,199.5 409.1,199.4 407.5,199.3 407.2,199.4 404.9,201.3 407.2,203.3 407.5,203.4 408.8,203.3 410.7,203.1 413.9,202.9 415.6,203.3 417.1,204.0 418.2,205.2 417.9,207.1 417.7,209.1 417.9,211.0 418.2,212.9 417.1,214.3 416.1,214.8 413.9,215.5 410.7,215.5 407.5,215.5 404.8,216.8 404.2,217.6 402.6,218.7 401.0,219.1 397.8,219.1 394.6,219.0 391.4,219.1 388.2,219.2 386.0,218.7 385.0,218.2 383.7,216.8 385.0,215.5 386.4,214.8 388.2,214.4 391.1,212.9 391.4,212.8 394.6,211.0 394.7,211.0 397.8,209.1 397.9,209.0 397.8,208.7 397.6,207.1 397.4,205.2 397.1,203.3 396.9,201.3 397.2,199.4 397.7,197.5 394.6,196.0 392.1,197.5 391.4,198.5 390.1,199.4 388.2,200.0 385.0,199.8 381.8,199.6 379.6,201.3 381.8,203.0 385.0,202.9 388.2,202.8 389.5,203.3 391.4,204.5 392.0,205.2 391.9,207.1 391.8,209.0 391.4,209.3 388.8,211.0 388.2,211.4 386.8,211.0 385.0,209.9 384.3,209.0 381.8,207.5 379.2,209.0 378.6,209.9 377.0,211.0 375.3,211.5 372.9,212.9 372.1,213.9 370.3,214.8 368.9,215.2 366.3,216.8 366.6,218.7 367.0,220.6 365.7,221.4 363.8,222.6 362.5,223.4 359.3,223.2 356.1,223.1 352.9,223.1 349.7,223.2 347.2,222.6 346.4,222.1 345.1,220.6 346.4,219.1 347.2,218.7 349.7,218.0 352.9,218.2 356.1,218.4 358.9,216.8 358.7,214.8 358.4,212.9 359.3,211.8 360.7,211.0 362.5,210.5 364.8,209.0 365.7,207.9 367.0,207.1 368.9,206.6 372.1,206.7 375.3,206.7 378.0,205.2 375.3,204.0 372.5,203.3 372.1,203.1 370.4,201.3 372.1,199.5 372.4,199.4 375.3,198.7 378.1,197.5 375.3,196.0 373.5,195.5 372.1,194.9 370.8,193.6 372.1,192.1 372.9,191.7 375.3,191.0ZM574.4,189.8 574.8,189.8 574.8,191.7 574.8,193.6 574.6,195.5 574.5,197.5 574.6,199.4 574.8,201.3 574.4,201.5 571.2,201.4 568.0,201.4 564.8,201.4 561.6,201.4 560.3,201.3 561.6,201.3 564.8,201.3 568.0,201.3 571.2,201.1 574.1,199.4 574.4,197.5 574.2,195.5 574.1,193.6 574.1,191.7 574.1,189.8 574.4,189.8ZM208.4,193.2 209.0,193.6 208.4,194.0 207.8,193.6 208.4,193.2ZM205.2,195.3 205.5,195.5 205.2,195.7 204.8,195.5 205.2,195.3ZM336.8,194.9 340.0,194.8 343.2,194.8 346.4,194.9 349.7,195.0 351.6,195.5 352.9,196.3 353.9,197.5 354.2,199.4 354.4,201.3 352.9,203.1 352.5,203.3 349.7,204.1 346.4,203.9 343.2,203.7 341.6,203.3 340.0,202.3 339.3,201.3 336.8,199.9 334.3,199.4 333.6,199.1 332.0,197.5 333.6,195.9 334.2,195.5 336.8,194.9ZM478.1,194.7 480.7,195.5 481.3,195.9 482.6,197.5 481.3,199.1 480.7,199.4 478.1,200.2 475.7,199.4 474.9,198.9 473.8,197.5 474.9,196.0 475.6,195.5 478.1,194.7ZM202.0,197.5 202.0,197.5 202.0,197.5 202.0,197.4 202.0,197.5ZM548.7,197.4 548.8,197.5 548.7,197.5 548.1,197.5 548.7,197.4ZM588.0,197.1 588.0,197.5 588.0,197.8 587.4,197.5 588.0,197.1ZM205.2,199.3 205.4,199.4 205.2,199.5 205.0,199.4 205.2,199.3ZM291.9,198.6 294.5,199.4 295.1,199.7 296.4,201.3 295.1,202.9 294.5,203.3 291.9,204.1 288.9,203.3 288.6,203.1 287.1,201.3 288.6,199.6 288.9,199.4 291.9,198.6ZM465.3,198.6 467.6,199.4 468.5,199.9 469.6,201.3 468.5,202.8 467.8,203.3 465.3,204.1 462.9,203.3 462.0,202.7 460.9,201.3 462.0,199.9 462.7,199.4 465.3,198.6ZM208.4,201.1 208.7,201.3 208.4,201.5 208.0,201.3 208.4,201.1ZM211.6,203.1 211.8,203.3 211.6,203.4 211.4,203.3 211.6,203.1ZM452.4,202.5 454.8,203.3 455.6,203.8 456.7,205.2 455.6,206.6 454.8,207.1 452.4,207.9 449.8,207.1 449.2,206.8 447.9,205.2 449.2,203.6 449.8,203.3 452.4,202.5ZM214.8,205.2 218.0,205.2 221.2,205.2 221.3,205.2 221.2,205.2 218.0,205.3 214.9,207.1 214.9,209.1 214.8,209.1 214.7,209.0 214.7,207.1 214.7,205.2 214.8,205.2ZM349.7,206.6 351.6,207.1 352.9,207.8 354.0,209.1 352.9,210.4 351.9,211.0 349.7,211.8 347.0,211.0 346.4,210.6 345.1,209.0 346.4,207.7 347.7,207.1 349.7,206.6ZM234.1,208.6 234.9,209.1 234.1,209.6 233.2,209.1 234.1,208.6ZM211.6,210.9 211.6,211.0 211.6,211.0 211.5,211.0 211.6,210.9ZM282.2,210.8 285.4,209.9 288.6,210.8 288.9,211.0 290.3,212.9 288.8,214.8 288.6,214.9 285.4,215.9 282.2,215.1 281.9,214.8 280.4,212.9 281.9,211.0 282.2,210.8ZM327.2,210.7 330.4,209.9 333.6,210.8 333.8,211.0 335.3,212.9 333.8,214.8 333.6,215.0 330.4,215.9 327.2,215.1 326.6,214.8 325.3,212.9 326.6,211.0 327.2,210.7ZM465.3,210.2 467.9,211.0 468.5,211.3 469.8,212.9 468.5,214.3 467.6,214.8 465.3,215.6 464.0,214.8 462.0,213.7 460.5,212.9 462.0,211.3 462.6,211.0 465.3,210.2ZM208.4,212.9 208.4,212.9 208.4,212.9 207.1,212.9 208.4,212.9ZM298.3,213.9 301.5,214.7 301.8,214.8 303.3,216.8 301.8,218.7 301.5,218.9 298.3,219.7 295.1,218.7 295.0,218.7 293.6,216.8 295.1,215.0 295.3,214.8 298.3,213.9ZM240.5,216.6 240.8,216.8 240.5,218.7 240.5,219.1 240.4,218.7 240.2,216.8 240.5,216.6ZM548.7,216.6 549.1,216.8 549.1,218.7 549.1,220.6 548.7,220.8 548.4,220.6 548.4,218.7 548.4,216.8 548.7,216.6ZM439.6,218.1 442.8,218.1 446.0,218.1 448.0,218.7 449.2,219.5 449.9,220.6 452.4,222.3 455.6,222.1 458.8,222.0 462.0,222.0 465.3,221.9 467.4,220.6 468.5,219.3 469.6,218.7 471.7,218.2 474.9,218.1 478.1,218.0 480.7,218.7 481.3,219.0 482.9,220.6 481.3,222.3 480.8,222.6 478.1,223.2 474.9,223.2 471.7,223.1 469.3,224.5 468.5,225.5 466.6,226.4 465.3,226.7 462.0,228.3 462.0,228.3 462.0,228.4 465.3,230.0 466.3,230.3 468.5,231.2 469.4,232.2 469.5,234.1 469.5,236.1 468.5,237.5 467.6,238.0 465.3,238.6 462.0,238.4 458.8,238.1 456.0,239.9 458.8,241.6 459.5,241.9 460.9,243.8 461.7,245.7 462.0,246.3 463.3,247.7 462.0,248.8 460.2,249.6 458.8,249.9 455.7,251.5 458.8,253.3 462.0,253.1 465.3,252.9 467.3,253.4 468.5,254.1 469.5,255.4 469.5,257.3 469.4,259.2 468.5,260.4 467.0,261.2 465.3,261.6 462.7,263.1 462.0,264.0 460.3,265.0 458.8,265.4 456.2,266.9 456.6,268.9 456.9,270.8 455.6,272.2 454.6,272.7 452.4,273.3 449.2,273.2 446.0,273.2 442.8,273.3 439.6,273.4 436.5,274.7 437.1,276.6 437.7,278.5 439.6,279.9 441.3,280.5 442.8,281.4 443.5,282.4 443.2,284.3 443.0,286.2 442.8,288.2 442.8,288.5 442.6,290.1 442.8,290.3 445.6,292.0 446.0,292.1 446.3,292.0 449.2,290.1 449.2,290.1 449.2,289.1 449.2,288.2 449.1,286.2 448.9,284.3 448.6,282.4 449.2,281.6 450.9,280.5 452.4,280.0 454.7,278.5 455.6,277.3 456.6,276.6 458.8,275.8 461.3,276.6 462.0,277.1 462.9,278.5 463.0,280.5 463.0,282.4 465.3,284.3 468.1,282.4 468.5,281.7 469.7,280.5 471.7,279.7 474.1,280.5 474.9,281.1 475.8,282.4 475.7,284.3 475.6,286.2 478.1,287.8 480.6,286.2 481.3,285.2 482.4,284.3 484.5,283.5 486.9,284.3 487.7,284.9 488.8,286.2 487.7,287.5 486.5,288.2 484.5,288.7 482.2,290.1 482.2,292.0 482.2,294.0 482.2,295.9 482.2,297.8 482.1,299.8 482.1,301.7 482.0,303.6 481.9,305.6 482.2,307.5 482.4,309.4 481.3,310.6 479.8,311.3 478.1,311.7 474.9,311.9 471.7,312.0 468.7,313.3 468.5,313.4 465.8,315.2 465.3,315.5 462.0,315.5 458.8,315.4 455.7,317.1 455.8,319.1 455.9,321.0 458.8,322.2 461.0,322.9 462.0,323.6 463.0,324.9 462.0,325.4 459.8,326.8 458.8,327.4 455.6,327.4 452.4,327.4 449.2,327.3 446.0,327.2 442.8,328.7 442.7,328.7 439.6,330.6 439.5,330.6 437.3,332.6 437.2,334.5 437.1,336.4 436.4,337.4 435.1,338.4 433.1,339.0 431.5,338.4 429.9,337.0 429.5,336.4 426.7,335.0 424.4,336.4 424.4,338.4 424.5,340.3 424.5,342.2 424.6,344.1 424.9,346.1 425.0,348.0 426.7,349.8 427.2,349.9 429.9,351.7 430.0,351.9 433.1,353.2 436.4,351.9 436.4,351.9 436.4,351.6 436.1,349.9 435.8,348.0 433.1,346.7 431.1,346.1 429.9,345.4 428.9,344.1 429.9,342.8 430.8,342.2 433.1,341.4 435.7,342.2 436.4,342.6 437.6,344.1 439.6,345.6 442.8,345.5 446.0,345.4 447.7,346.1 449.2,347.3 449.7,348.0 450.0,349.9 450.2,351.9 450.2,353.8 450.2,355.7 450.1,357.7 450.1,359.6 452.2,361.5 452.4,361.6 452.7,361.5 455.4,359.6 454.7,357.7 454.2,355.7 454.2,353.8 454.2,351.9 454.3,349.9 454.4,348.0 454.4,346.1 454.3,344.1 454.5,342.2 454.8,340.3 455.6,339.4 457.7,338.4 458.8,338.1 461.9,336.4 461.2,334.5 460.7,332.6 461.2,330.6 461.8,328.7 462.0,328.6 465.0,326.8 465.3,326.6 468.1,324.9 467.9,322.9 467.8,321.0 467.8,319.1 467.8,317.1 468.5,316.8 471.3,315.2 471.7,315.0 474.9,314.9 478.1,314.8 479.9,315.2 481.3,315.8 482.6,317.1 481.3,318.3 479.6,319.1 478.1,319.4 475.4,321.0 475.3,322.9 475.3,324.9 478.1,326.6 480.8,324.9 481.3,324.1 483.0,322.9 484.5,322.4 487.7,322.3 490.9,322.3 493.5,322.9 494.2,323.3 495.5,324.9 494.2,326.2 493.0,326.8 490.9,327.3 487.7,327.3 484.5,327.2 481.7,328.7 482.2,330.6 482.6,332.6 482.3,334.5 481.9,336.4 482.1,338.4 482.3,340.3 481.3,341.3 479.5,342.2 478.1,342.6 475.4,344.1 478.1,345.6 479.8,346.1 481.3,346.9 482.2,348.0 484.5,349.5 487.7,349.3 490.9,349.1 493.9,349.9 494.2,350.1 495.8,351.9 494.2,353.5 493.6,353.8 490.9,354.4 488.2,355.7 488.5,357.7 488.8,359.6 487.7,360.9 486.5,361.5 484.5,362.0 481.3,361.9 478.1,361.7 474.9,362.0 471.7,362.3 469.3,361.5 468.5,361.0 467.4,359.6 467.6,357.7 467.9,355.7 468.5,355.0 470.2,353.8 471.7,353.3 474.9,353.2 478.1,353.1 480.9,351.9 478.1,350.3 476.7,349.9 474.9,349.1 473.8,348.0 471.7,346.7 470.2,346.1 468.5,344.5 468.2,344.1 465.3,342.2 465.3,342.2 465.2,342.2 463.1,344.1 463.2,346.1 463.4,348.0 463.6,349.9 463.7,351.9 463.7,353.8 463.6,355.7 463.2,357.7 462.6,359.6 462.6,361.5 462.7,363.4 462.0,364.4 460.6,365.4 458.8,365.9 457.4,367.3 455.8,369.2 455.6,369.3 452.4,370.1 449.2,371.1 449.0,371.2 449.2,371.3 452.4,372.6 455.6,372.4 458.8,372.2 461.7,373.1 462.0,373.3 463.4,375.0 463.1,377.0 462.8,378.9 462.0,378.9 458.8,378.9 455.6,378.9 452.4,378.9 449.2,378.9 446.0,378.9 442.8,378.9 439.6,378.9 436.4,378.9 433.1,378.9 429.9,378.9 426.7,378.9 423.5,378.9 420.3,378.9 417.1,378.9 413.9,378.9 410.7,378.9 407.5,378.9 404.2,378.9 401.0,378.9 397.8,378.9 394.6,378.9 391.4,378.9 388.2,378.9 385.0,378.9 381.8,378.9 378.6,378.9 375.3,378.9 372.1,378.9 368.9,378.9 365.7,378.9 362.5,378.9 359.3,378.9 356.1,378.9 352.9,378.9 349.7,378.9 346.4,378.9 343.2,378.9 340.0,378.9 336.8,378.9 333.6,378.9 330.4,378.9 327.2,378.9 324.0,378.9 320.8,378.9 320.5,378.9 320.4,377.0 320.2,375.0 320.8,374.4 322.7,373.1 324.0,372.7 325.2,373.1 327.2,374.5 327.6,375.0 330.4,376.4 333.6,375.1 333.6,375.0 333.6,374.7 333.4,373.1 333.2,371.2 330.4,369.5 327.2,369.6 324.0,369.6 320.8,369.4 318.0,369.2 317.5,369.2 317.5,369.2 314.4,371.2 314.5,373.1 314.6,375.0 314.5,377.0 314.4,378.9 314.3,378.9 311.1,378.9 307.9,378.9 304.7,378.9 301.5,378.9 298.3,378.9 295.1,378.9 291.9,378.9 288.6,378.9 285.4,378.9 282.2,378.9 281.3,378.9 282.2,377.7 283.7,377.0 285.4,376.5 288.0,375.0 288.6,374.2 290.5,373.1 291.9,372.7 294.3,371.2 295.1,370.1 296.4,369.2 298.3,368.7 301.5,368.9 304.7,369.2 307.7,367.3 307.7,365.4 307.8,363.4 304.7,361.6 301.5,362.0 298.3,362.4 295.5,361.5 295.1,361.3 293.8,359.6 294.1,357.7 294.5,355.7 294.2,353.8 293.9,351.9 293.9,349.9 294.0,348.0 294.1,346.1 294.2,344.1 291.9,342.7 290.0,342.2 288.6,342.0 285.4,341.6 282.2,341.0 280.9,340.3 281.3,338.4 281.6,336.4 281.5,334.5 281.4,332.6 282.2,331.4 283.4,330.6 285.4,330.0 288.6,329.9 291.9,329.7 294.2,328.7 295.1,327.6 296.4,326.8 298.3,326.2 301.5,326.4 304.7,326.6 307.9,324.9 308.0,324.9 307.9,324.8 304.7,323.1 303.6,322.9 301.5,322.1 300.2,321.0 301.5,319.7 302.9,319.1 304.7,318.7 306.6,317.1 307.9,315.4 308.2,315.2 311.1,314.3 313.1,313.3 314.3,311.8 315.1,311.3 317.5,310.7 320.3,309.4 320.0,307.5 319.7,305.6 320.8,304.3 322.0,303.6 324.0,303.1 325.6,303.6 327.2,304.8 327.7,305.6 330.4,307.4 333.6,307.3 336.8,307.2 340.0,307.4 342.7,307.5 343.2,307.5 343.3,307.5 346.3,305.6 346.0,303.6 345.7,301.7 346.4,300.9 348.7,299.8 349.7,299.5 351.3,297.8 351.3,295.9 351.2,294.0 352.9,292.1 353.0,292.0 356.1,291.1 359.1,292.0 359.3,292.2 360.8,294.0 360.7,295.9 360.6,297.8 362.2,299.8 362.5,300.0 362.8,299.8 364.9,297.8 364.8,295.9 364.6,294.0 364.7,292.0 364.8,290.1 362.5,288.2 359.3,288.6 356.1,288.9 352.9,288.6 349.8,288.2 349.7,288.2 349.6,288.2 346.4,290.1 346.4,290.1 346.4,290.2 347.0,292.0 347.5,294.0 346.4,295.2 345.3,295.9 343.2,296.5 340.0,296.4 336.8,296.2 334.3,297.8 336.8,299.0 339.5,299.8 340.0,300.0 341.5,301.7 340.0,303.2 339.4,303.6 336.8,304.4 334.2,303.6 333.6,303.3 332.1,301.7 330.4,300.3 328.5,299.8 327.2,299.0 326.1,297.8 327.2,296.8 329.1,295.9 330.4,295.6 333.3,294.0 330.4,292.2 327.2,292.2 324.0,292.3 320.8,292.4 317.5,292.6 315.6,292.0 314.3,291.4 313.2,290.1 313.2,288.2 313.3,286.2 313.3,284.3 313.4,282.4 314.3,281.3 315.7,280.5 317.5,279.9 318.3,280.5 320.8,282.1 321.2,282.4 321.3,284.3 321.4,286.2 324.0,288.1 327.2,286.4 327.4,286.2 327.2,284.3 327.2,283.8 327.1,282.4 324.0,281.0 322.9,280.5 320.8,279.3 319.4,278.5 319.4,276.6 319.4,274.7 319.5,272.7 319.7,270.8 320.8,269.3 321.3,268.9 324.0,267.9 325.3,268.9 327.2,270.2 328.1,270.8 330.4,271.9 332.7,270.8 333.6,270.2 335.5,268.9 336.8,267.9 339.2,268.9 340.0,269.6 340.9,270.8 340.0,271.9 338.6,272.7 336.8,273.3 335.0,274.7 334.5,276.6 333.9,278.5 336.8,280.4 340.0,280.0 343.2,279.7 345.9,278.5 346.4,277.8 348.5,276.6 349.7,276.3 352.9,276.0 356.1,275.9 358.8,276.6 359.3,276.9 360.8,278.5 360.1,280.5 359.3,282.3 359.2,282.4 359.3,282.4 362.5,284.3 365.5,282.4 365.7,282.0 367.2,280.5 368.9,279.8 372.1,279.8 375.3,279.9 377.5,278.5 378.6,277.9 380.7,276.6 381.8,275.9 384.1,274.7 385.0,273.7 387.0,272.7 388.2,272.5 391.0,270.8 390.5,268.9 390.2,266.9 388.2,265.2 385.0,265.4 381.8,265.7 379.9,265.0 378.6,264.0 377.9,263.1 375.3,261.6 372.7,263.1 373.1,265.0 373.5,266.9 372.1,268.9 372.1,268.9 368.9,269.8 366.8,270.8 365.7,272.2 364.6,272.7 362.5,273.3 359.3,273.1 356.1,273.0 352.9,273.1 349.7,273.2 348.1,272.7 346.4,271.8 345.5,270.8 345.5,268.9 345.5,266.9 346.4,265.7 347.4,265.0 349.7,264.2 351.6,265.0 352.9,266.2 353.3,266.9 356.1,268.7 358.3,266.9 358.4,265.0 358.4,263.1 359.3,261.9 360.4,261.2 362.5,260.5 365.7,260.6 368.9,260.7 371.2,259.2 372.1,257.8 372.8,257.3 375.3,256.4 377.6,257.3 378.6,258.2 379.1,259.2 381.8,260.9 384.1,259.2 384.0,257.3 383.9,255.4 385.0,254.8 387.3,253.4 388.2,252.9 390.0,251.5 391.4,249.8 391.8,249.6 394.6,248.8 397.8,249.1 401.0,249.4 404.2,249.3 407.5,249.2 409.0,249.6 410.7,250.5 411.5,251.5 413.9,252.6 417.1,252.8 420.3,253.0 423.5,252.7 426.7,252.5 428.9,251.5 428.9,249.6 428.9,247.7 429.9,246.6 431.8,245.7 433.1,245.4 436.4,245.5 439.6,245.6 442.8,245.7 445.1,245.7 446.0,245.7 446.0,245.7 447.9,243.8 448.1,241.9 448.6,239.9 448.9,238.0 449.1,236.1 446.0,234.6 442.8,234.9 439.6,235.1 436.4,234.2 436.2,234.1 434.4,232.2 434.5,230.3 434.5,228.3 433.1,227.0 432.1,226.4 429.9,225.3 428.4,224.5 429.9,223.0 430.9,222.6 433.1,222.0 435.6,220.6 436.4,219.6 437.7,218.7 439.6,218.1ZM452.1,253.4 449.2,255.1 448.9,255.4 449.2,255.8 451.7,257.3 452.4,257.5 453.0,257.3 455.6,255.4 455.7,255.4 455.6,254.3 455.1,253.4 452.4,253.3 452.1,253.4ZM404.7,255.4 404.2,255.9 402.0,257.3 401.0,257.6 398.1,259.2 398.7,261.2 399.1,263.1 399.0,265.0 398.9,266.9 401.0,268.4 403.9,266.9 404.2,266.3 405.6,265.0 407.5,264.2 409.3,265.0 410.7,266.3 411.0,266.9 413.9,268.3 417.1,267.0 417.1,266.9 417.1,266.9 415.5,265.0 414.9,263.1 415.1,261.2 415.5,259.2 413.9,258.1 411.2,257.3 410.7,257.0 409.4,255.4 407.5,253.8 404.7,255.4ZM420.1,263.1 420.3,263.3 421.0,263.1 420.3,262.7 420.1,263.1ZM445.5,265.0 443.4,266.9 445.9,268.9 446.0,268.9 446.1,268.9 449.2,267.1 449.4,266.9 449.2,266.8 446.6,265.0 446.0,264.7 445.5,265.0ZM413.7,274.7 413.9,274.7 414.0,274.7 413.9,274.6 413.7,274.7ZM379.1,282.4 378.9,284.3 378.7,286.2 381.8,287.5 385.0,287.8 388.2,288.1 389.3,286.2 389.7,284.3 390.4,282.4 388.2,281.1 385.0,281.0 381.8,280.9 379.1,282.4ZM418.1,282.4 420.3,283.7 422.4,284.3 423.5,284.9 424.6,286.2 426.7,287.5 429.7,286.2 429.9,285.9 432.6,284.3 433.1,284.2 435.8,282.4 433.1,281.1 429.9,281.0 426.7,281.0 423.5,281.0 420.3,280.9 418.1,282.4ZM394.6,286.2 394.5,288.2 394.4,290.1 394.6,290.4 397.8,290.7 399.7,292.0 400.2,294.0 401.0,294.4 401.7,294.0 401.6,292.0 401.4,290.1 401.3,288.2 401.1,286.2 401.0,286.1 397.8,286.2 394.6,286.2 394.6,286.2ZM462.5,290.1 462.0,290.8 460.1,292.0 458.8,292.4 456.8,294.0 455.6,295.4 454.6,295.9 452.4,296.4 449.3,297.8 449.9,299.8 450.4,301.7 449.2,303.2 448.6,303.6 446.0,304.4 443.4,305.6 442.8,306.3 440.5,307.5 439.6,307.7 438.6,309.4 437.7,311.3 436.4,312.2 433.1,312.7 430.7,313.3 429.9,314.1 428.0,315.2 426.7,315.5 423.5,315.4 420.3,315.4 417.1,315.3 413.9,315.3 410.7,315.5 407.5,315.6 404.2,316.9 403.9,317.1 404.2,317.4 407.5,318.7 410.7,318.8 413.9,319.0 417.1,318.7 420.3,318.4 422.5,319.1 423.5,319.6 424.6,321.0 426.7,322.3 429.5,321.0 429.9,320.4 431.8,319.1 433.1,318.6 436.4,318.5 439.6,318.5 441.7,317.1 441.6,315.2 441.5,313.3 442.8,311.8 443.6,311.3 446.0,310.6 449.2,310.5 452.4,310.5 455.6,310.7 458.8,311.0 461.5,309.4 462.0,308.7 464.3,307.5 465.3,307.2 467.4,305.6 467.5,303.6 467.7,301.7 468.5,300.8 470.4,299.8 471.7,299.4 474.2,297.8 474.1,295.9 474.0,294.0 474.1,292.0 474.2,290.1 471.7,288.6 468.5,288.5 465.3,288.4 462.5,290.1ZM405.1,297.8 407.5,299.3 410.7,299.3 413.9,299.2 415.7,299.8 417.1,300.6 418.1,301.7 420.3,303.6 422.5,301.7 422.5,299.8 422.6,297.8 420.3,296.5 417.1,296.5 413.9,296.5 410.7,296.4 407.5,296.4 405.1,297.8ZM374.7,305.6 374.8,307.5 374.9,309.4 375.3,309.6 378.6,309.6 381.8,309.5 382.2,309.4 382.4,307.5 382.7,305.6 381.8,305.2 378.6,305.2 375.3,305.2 374.7,305.6ZM423.3,305.6 423.5,305.8 426.3,307.5 426.7,307.6 426.8,307.5 429.2,305.6 426.7,304.1 423.5,305.1 423.3,305.6ZM356.0,307.5 353.9,309.4 356.1,310.7 358.2,311.3 359.3,312.0 360.4,313.3 362.5,315.1 365.7,314.9 368.9,314.7 372.0,313.3 368.9,311.9 367.0,311.3 365.7,310.6 364.7,309.4 362.5,307.5 359.3,307.5 357.8,307.5 356.1,307.5 356.0,307.5ZM432.6,309.4 433.1,309.6 433.5,309.4 433.1,309.0 432.6,309.4ZM378.8,313.3 379.4,315.2 379.8,317.1 380.0,319.1 380.0,321.0 381.8,321.7 385.0,321.9 388.2,322.7 390.1,321.0 390.4,319.1 390.8,317.1 390.5,315.2 390.3,313.3 388.2,311.9 385.0,312.4 381.8,312.6 378.8,313.3ZM368.8,321.0 368.9,321.0 369.0,321.0 368.9,320.9 368.8,321.0ZM326.3,322.9 324.0,323.0 320.8,323.2 317.5,323.4 314.3,324.7 314.2,324.9 314.3,325.0 317.3,326.8 317.5,326.9 320.3,326.8 320.8,326.8 324.0,326.6 327.2,326.7 329.5,326.8 330.4,326.8 330.5,326.8 333.6,325.2 333.9,324.9 333.6,324.6 330.7,322.9 330.4,322.8 327.2,322.9 326.3,322.9ZM356.1,324.9 355.8,326.8 355.5,328.7 355.1,330.6 352.9,332.1 349.7,332.4 349.4,332.6 349.2,334.5 349.0,336.4 349.1,338.4 349.1,340.3 349.0,342.2 346.7,344.1 349.7,344.2 349.8,344.1 350.0,342.2 350.2,340.3 350.2,338.4 350.3,336.4 350.6,334.5 352.9,333.0 356.1,332.8 356.4,332.6 356.5,330.6 356.6,328.7 356.3,326.8 356.1,324.9 356.1,324.8 356.1,324.9ZM391.4,324.9 391.4,324.9 394.0,326.8 394.6,327.0 395.1,326.8 397.8,325.1 398.2,324.9 397.8,324.6 394.6,323.5 391.4,324.8 391.4,324.9ZM381.6,326.8 381.3,328.7 381.8,328.9 382.0,328.7 381.9,326.8 381.8,325.4 381.6,326.8ZM366.3,328.7 368.9,330.3 371.0,328.7 368.9,327.2 366.3,328.7ZM330.3,330.6 327.2,332.4 327.0,332.6 327.1,334.5 327.2,335.0 327.3,336.4 327.3,338.4 327.3,340.3 327.2,341.7 327.1,342.2 327.0,344.1 327.2,344.3 330.4,345.7 332.8,344.1 332.8,342.2 332.8,340.3 332.7,338.4 332.6,336.4 332.7,334.5 332.9,332.6 330.4,330.6 330.4,330.6 330.3,330.6ZM296.4,332.6 296.1,334.5 295.7,336.4 295.7,338.4 295.7,340.3 298.3,341.8 301.5,341.6 304.7,341.4 307.9,341.7 311.1,342.0 314.2,340.3 313.6,338.4 313.1,336.4 311.1,334.8 310.1,334.5 307.9,333.2 307.5,332.6 304.7,331.0 301.5,331.0 298.3,331.1 296.4,332.6ZM411.3,332.6 413.9,334.2 417.1,332.8 417.4,332.6 417.1,332.4 413.9,331.4 411.3,332.6ZM368.3,340.3 368.4,342.2 368.5,344.1 368.9,344.4 372.1,344.3 374.2,344.1 375.3,343.6 375.8,342.2 375.9,340.3 375.3,340.0 372.1,339.9 368.9,339.9 368.3,340.3ZM376.7,344.1 378.6,344.2 381.8,344.3 385.0,344.4 388.2,344.6 388.6,344.1 388.2,343.7 385.0,343.9 381.8,343.9 378.6,344.0 376.7,344.1ZM302.0,348.0 302.2,349.9 302.4,351.9 304.7,353.7 307.9,353.7 311.1,353.7 314.2,351.9 314.2,349.9 314.2,348.0 311.1,346.3 307.9,346.5 304.7,346.7 302.0,348.0ZM347.5,348.0 347.5,349.9 347.5,351.9 349.7,352.5 352.9,352.8 356.1,353.3 358.3,351.9 358.3,349.9 358.3,348.0 356.1,346.7 352.9,347.1 349.7,347.3 347.5,348.0ZM420.0,351.9 420.3,352.0 420.6,351.9 420.3,351.6 420.0,351.9ZM413.4,353.8 411.4,355.7 413.6,357.7 413.9,357.8 414.5,357.7 417.1,356.1 417.4,355.7 417.1,355.6 414.2,353.8 413.9,353.5 413.4,353.8ZM349.6,355.7 349.7,355.8 349.7,355.7 349.7,355.7 349.6,355.7ZM426.6,357.7 423.7,359.6 423.9,361.5 424.1,363.4 424.3,365.4 424.5,367.3 426.7,368.6 429.9,368.2 433.1,368.0 435.2,367.3 435.2,365.4 435.1,363.4 433.1,361.8 432.4,361.5 429.9,359.7 429.8,359.6 426.8,357.7 426.7,357.6 426.6,357.7ZM378.1,359.6 378.6,360.2 380.8,361.5 381.8,361.8 382.2,361.5 383.7,359.6 381.8,358.1 378.6,359.3 378.1,359.6ZM330.3,361.5 327.2,363.2 327.0,363.4 327.2,363.6 330.4,365.2 331.2,365.4 333.6,366.6 334.3,367.3 336.8,368.9 340.0,368.7 343.2,368.6 345.4,367.3 343.2,366.2 340.3,365.4 340.0,365.2 338.5,363.4 336.8,361.6 333.6,361.5 332.1,361.5 330.4,361.5 330.3,361.5ZM413.6,361.5 411.3,363.4 413.9,365.0 417.1,363.5 417.1,363.4 417.1,363.4 414.4,361.5 413.9,361.3 413.6,361.5ZM355.6,363.4 356.1,363.7 356.5,363.4 356.1,363.2 355.6,363.4ZM375.2,371.2 375.3,371.3 378.6,371.2 381.8,371.2 385.0,371.3 388.2,371.4 388.5,371.2 388.2,371.0 385.0,371.0 381.8,371.1 378.6,371.1 375.3,371.0 375.2,371.2ZM432.5,371.2 433.1,371.6 433.7,371.2 433.1,371.0 432.5,371.2ZM420.1,373.1 417.1,373.4 413.9,373.6 410.7,373.6 407.5,373.6 405.1,375.0 407.5,376.5 410.7,376.7 413.9,376.9 416.2,377.0 417.1,377.0 420.3,377.1 420.5,377.0 422.7,375.0 420.3,373.1 420.3,373.1 420.1,373.1ZM368.4,375.0 368.9,375.3 369.4,375.0 368.9,374.7 368.4,375.0ZM214.8,220.6 218.0,220.6 221.2,220.6 224.4,220.5 227.6,220.4 230.8,220.6 231.5,220.6 230.8,220.7 227.6,220.8 224.4,220.7 221.2,220.7 218.0,220.7 214.8,221.4 213.5,220.6 214.8,220.6ZM529.5,220.6 529.5,220.6 529.5,220.7 528.8,220.6 529.5,220.6ZM568.0,219.9 568.1,220.6 568.2,222.6 568.3,224.5 568.0,224.7 564.8,224.5 564.2,224.5 564.8,224.4 567.6,222.6 567.9,220.6 568.0,219.9ZM394.6,222.1 396.2,222.6 397.8,223.5 398.7,224.5 401.0,225.9 403.2,226.4 404.2,226.9 405.6,228.3 404.2,229.7 402.9,230.3 401.0,230.7 397.8,230.7 394.6,230.7 393.0,230.3 391.4,229.5 390.3,228.3 390.3,226.4 390.3,224.5 391.4,223.3 393.0,222.6 394.6,222.1ZM420.3,221.8 422.9,222.6 423.5,222.9 425.1,224.5 423.5,225.1 420.3,225.8 417.1,225.4 415.5,224.5 417.1,222.8 417.5,222.6 420.3,221.8ZM580.8,224.3 584.4,224.5 585.1,224.5 584.4,224.5 580.8,224.7 580.5,224.5 580.8,224.3ZM221.2,228.2 224.4,228.2 227.6,228.3 228.3,228.3 227.6,228.4 224.4,228.5 221.2,228.6 220.9,228.3 221.2,228.2ZM343.2,229.5 345.9,230.3 346.4,230.6 347.8,232.2 346.4,233.8 345.9,234.1 343.2,234.9 340.6,234.1 340.0,233.8 338.7,232.2 340.0,230.6 340.6,230.3 343.2,229.5ZM368.9,229.3 371.7,230.3 372.1,230.6 373.2,232.2 372.1,233.5 371.2,234.1 368.9,234.9 366.3,234.1 365.7,233.8 364.4,232.2 365.7,230.4 366.0,230.3 368.9,229.3ZM208.4,232.0 208.7,232.2 208.7,234.1 208.7,236.1 208.4,236.3 208.0,236.1 208.0,234.1 208.0,232.2 208.4,232.0ZM568.0,232.0 571.2,232.1 574.4,232.2 577.6,232.2 580.8,232.2 582.3,232.2 580.8,232.2 577.6,232.2 574.4,232.2 571.2,232.4 568.1,234.1 568.0,234.5 567.9,234.1 567.7,232.2 568.0,232.0ZM381.8,233.3 383.9,234.1 385.0,235.0 385.7,236.1 385.8,238.0 385.9,239.9 385.0,241.2 384.1,241.9 381.8,242.7 379.0,241.9 378.6,241.6 377.1,239.9 377.4,238.0 377.7,236.1 378.6,234.8 379.5,234.1 381.8,233.3ZM394.6,233.4 397.8,233.4 401.0,233.4 403.9,234.1 404.2,234.3 405.9,236.1 404.2,237.7 403.4,238.0 401.0,238.5 398.1,239.9 401.0,241.6 404.2,241.5 407.5,241.3 409.7,241.9 410.7,242.4 412.0,243.8 410.7,245.1 409.3,245.7 407.5,246.2 404.2,246.0 401.0,245.9 397.8,246.0 394.6,246.2 393.0,245.7 391.4,244.7 390.7,243.8 390.8,241.9 391.0,239.9 390.5,238.0 390.2,236.1 391.4,234.5 392.1,234.1 394.6,233.4ZM426.7,233.0 429.1,234.1 429.9,235.0 430.5,236.1 433.1,237.7 436.4,237.0 439.6,236.7 442.8,237.4 443.8,238.0 445.0,239.9 443.7,241.9 442.8,242.4 439.6,243.1 436.4,242.8 433.1,242.2 429.9,242.4 426.7,242.7 423.8,241.9 423.5,241.7 422.0,239.9 422.2,238.0 422.4,236.1 423.5,234.2 423.6,234.1 426.7,233.0ZM439.5,239.9 439.6,240.0 439.6,239.9 439.6,239.9 439.5,239.9ZM211.6,237.9 211.8,238.0 211.6,238.1 211.4,238.0 211.6,237.9ZM214.8,239.9 214.9,239.9 214.8,240.7 214.7,239.9 214.8,239.9ZM535.9,243.8 535.9,243.8 535.9,244.2 535.8,243.8 535.9,243.8ZM381.8,245.1 383.8,245.7 385.0,246.4 386.1,247.6 385.0,248.3 381.8,248.9 378.6,248.5 377.0,247.7 378.6,246.1 379.3,245.7 381.8,245.1ZM580.8,247.6 580.9,247.7 580.8,247.7 580.2,247.7 580.8,247.6ZM311.1,248.8 313.8,249.6 314.3,249.9 315.7,251.5 314.3,253.1 313.8,253.4 311.1,254.2 308.5,253.4 307.9,253.1 306.6,251.5 307.9,249.9 308.5,249.6 311.1,248.8ZM272.6,252.6 275.2,253.4 275.8,253.8 277.1,255.4 275.8,256.9 275.0,257.3 272.6,258.0 270.3,257.3 269.4,256.8 268.1,255.4 269.4,253.8 270.0,253.4 272.6,252.6ZM484.5,252.6 487.2,253.4 487.7,253.8 489.0,255.4 487.7,256.8 486.8,257.3 484.5,258.0 482.2,257.3 481.3,256.8 480.0,255.4 481.3,253.8 481.9,253.4 484.5,252.6ZM203.2,255.4 202.0,255.4 202.0,255.4 202.0,255.3 203.2,255.4ZM246.9,255.3 247.0,255.4 246.9,255.6 246.9,255.4 246.9,255.3ZM336.8,256.4 339.6,257.3 340.0,257.6 341.3,259.2 340.0,260.8 339.5,261.2 336.8,262.1 333.9,261.2 333.6,261.0 332.3,259.2 333.6,257.5 333.9,257.3 336.8,256.4ZM266.2,260.5 268.5,261.2 269.4,261.7 270.7,263.1 269.4,264.7 268.8,265.0 266.2,265.8 263.5,265.0 263.0,264.7 261.6,263.1 263.0,261.5 263.6,261.2 266.2,260.5ZM484.5,260.5 486.9,261.2 487.7,261.5 489.3,263.1 487.7,265.0 487.6,265.0 484.5,265.8 481.9,265.0 481.3,264.7 480.0,263.1 481.3,261.7 482.2,261.2 484.5,260.5ZM291.9,268.1 294.5,268.9 295.1,269.2 296.4,270.8 295.1,272.7 295.0,272.7 291.9,273.8 290.3,272.7 288.6,271.7 287.1,270.8 288.6,269.1 289.1,268.9 291.9,268.1ZM580.8,270.6 581.3,270.8 580.8,271.0 580.5,270.8 580.8,270.6ZM577.6,272.5 578.0,272.7 577.6,272.9 577.3,272.7 577.6,272.5ZM234.1,273.9 234.1,274.7 234.1,275.4 232.8,274.7 234.1,273.9ZM574.4,274.5 574.8,274.7 574.8,276.6 574.8,278.5 574.4,278.7 574.1,278.5 574.1,276.6 574.1,274.7 574.4,274.5ZM246.9,277.8 247.0,278.5 246.9,278.6 246.8,278.5 246.9,277.8ZM269.4,280.2 272.6,279.5 275.8,280.2 276.2,280.5 277.5,282.4 279.0,283.5 280.3,284.3 282.2,285.5 283.5,286.2 283.4,288.2 283.3,290.1 282.2,291.5 281.3,292.0 279.0,292.7 275.8,292.9 272.6,293.0 270.7,292.0 269.9,290.1 271.0,288.2 272.6,287.4 274.9,286.2 272.6,285.1 269.4,284.4 269.3,284.3 267.5,282.4 269.0,280.5 269.4,280.2ZM304.7,279.7 307.0,280.5 307.9,281.1 308.8,282.4 307.9,283.5 306.8,284.3 304.7,285.1 301.9,284.3 301.5,284.1 299.9,282.4 301.5,280.6 301.8,280.5 304.7,279.7ZM529.5,279.5 532.4,280.5 532.7,280.6 534.0,282.4 532.7,284.1 532.3,284.3 529.5,285.3 526.5,284.3 526.3,284.2 524.9,282.4 526.3,280.7 526.7,280.5 529.5,279.5ZM497.4,283.3 500.6,284.3 500.6,284.3 502.2,286.2 500.6,288.2 500.6,288.2 497.4,289.2 494.4,288.2 494.2,288.0 492.7,286.2 494.2,284.5 494.4,284.3 497.4,283.3ZM240.5,286.2 240.5,286.2 240.5,286.3 240.1,286.2 240.5,286.2ZM253.3,285.5 254.0,286.2 253.3,286.3 253.3,286.2 253.3,285.5ZM588.0,290.1 588.0,290.1 588.0,290.1 586.6,290.1 588.0,290.1ZM202.3,294.0 202.0,294.2 202.0,294.0 202.0,293.8 202.3,294.0ZM317.5,295.4 319.3,295.9 320.8,296.7 321.9,297.8 320.8,299.1 319.6,299.8 317.5,300.4 315.1,299.8 314.3,299.3 313.0,297.8 314.3,296.5 315.5,295.9 317.5,295.4ZM510.2,295.1 513.0,295.9 513.4,296.2 514.7,297.8 513.4,299.3 512.7,299.8 510.2,300.6 507.6,299.8 507.0,299.4 505.7,297.8 507.0,296.2 507.6,295.9 510.2,295.1ZM580.8,295.0 581.1,295.9 581.6,297.8 580.8,298.2 580.3,297.8 580.7,295.9 580.8,295.0ZM288.6,299.7 291.9,298.9 295.1,299.0 298.3,299.1 300.7,299.8 301.5,300.2 302.8,301.7 301.5,303.2 300.7,303.6 298.3,304.3 295.1,304.4 291.9,304.5 288.6,303.7 288.5,303.6 286.8,301.7 288.5,299.8 288.6,299.7ZM458.8,299.1 460.9,299.8 462.0,300.5 462.9,301.7 462.0,302.7 460.7,303.6 458.8,304.3 456.7,303.6 455.6,302.9 454.7,301.7 455.6,300.7 457.0,299.8 458.8,299.1ZM535.9,299.0 538.5,299.8 539.1,300.1 540.4,301.7 539.1,303.4 538.7,303.6 535.9,304.6 533.2,303.6 532.7,303.2 531.6,301.7 532.7,300.2 533.4,299.8 535.9,299.0ZM205.2,301.6 208.4,301.3 208.4,301.7 208.4,301.7 205.2,301.7 202.0,301.7 202.0,301.7 202.0,301.7 205.2,301.6ZM523.0,302.8 525.6,303.6 526.3,304.0 527.6,305.6 526.3,306.3 524.4,307.5 523.0,308.4 520.2,307.5 519.8,307.2 518.5,305.6 519.8,304.0 520.5,303.6 523.0,302.8ZM259.7,306.7 262.4,307.5 263.0,307.8 264.3,309.4 263.0,311.1 262.6,311.3 259.7,312.3 258.3,311.3 256.5,310.3 255.0,309.4 256.5,307.7 257.0,307.5 259.7,306.7ZM208.4,309.4 208.4,309.4 208.4,309.7 207.7,309.4 208.4,309.4ZM298.3,310.5 300.8,311.3 301.5,311.8 302.6,313.3 301.5,314.5 300.3,315.2 298.3,315.9 296.0,315.2 295.1,314.7 293.8,313.3 295.1,311.7 295.6,311.3 298.3,310.5ZM285.4,318.3 287.9,319.1 288.6,319.5 290.0,321.0 288.6,322.5 287.9,322.9 285.4,323.7 282.9,322.9 282.2,322.5 280.9,321.0 282.2,319.4 282.8,319.1 285.4,318.3ZM510.2,318.1 513.2,319.1 513.4,319.2 515.0,321.0 513.4,322.8 513.1,322.9 510.2,323.7 507.4,322.9 507.0,322.7 505.4,321.0 507.0,320.1 508.8,319.1 510.2,318.1ZM266.2,322.1 268.7,322.9 269.4,323.4 270.5,324.9 272.6,326.1 274.8,326.8 275.8,327.4 276.9,328.7 275.8,330.0 274.9,330.6 272.6,331.4 270.3,330.6 269.4,330.0 268.5,328.7 266.2,327.3 263.9,328.7 263.0,330.0 262.0,330.6 259.7,331.4 257.0,330.6 256.5,330.4 255.0,328.7 256.5,327.0 257.0,326.8 259.7,326.1 261.9,324.9 263.0,323.4 263.7,322.9 266.2,322.1ZM446.0,330.4 449.2,330.4 452.4,330.3 453.6,330.6 455.6,331.8 456.3,332.6 455.6,333.4 453.8,334.5 452.4,334.9 450.3,336.4 449.2,338.0 448.7,338.4 446.0,339.3 443.3,338.4 442.8,338.0 441.7,336.4 442.0,334.5 442.4,332.6 442.8,332.4 445.6,330.6 446.0,330.4ZM497.4,330.0 499.6,330.6 500.6,331.3 501.5,332.6 503.8,333.6 506.9,334.5 507.0,334.5 508.5,336.4 510.2,337.9 512.0,338.4 513.4,339.1 514.4,340.3 514.4,342.2 514.5,344.1 513.4,345.5 512.4,346.1 510.2,346.7 507.0,346.7 503.8,346.7 502.0,346.1 500.6,345.1 499.8,344.1 497.4,342.7 495.6,342.2 494.2,341.4 493.2,340.3 493.0,338.4 492.8,336.4 492.9,334.5 493.1,332.6 494.2,331.3 495.3,330.6 497.4,330.0ZM539.1,330.4 542.3,329.6 545.5,330.4 545.9,330.6 547.3,332.6 546.0,334.5 545.5,334.8 542.3,335.6 539.1,334.6 538.9,334.5 537.3,332.6 538.7,330.6 539.1,330.4ZM574.4,336.0 574.5,336.4 574.4,336.5 574.0,336.4 574.4,336.0ZM529.5,337.6 532.0,338.4 532.7,338.8 534.0,340.3 532.7,342.1 532.4,342.2 529.5,343.2 526.5,342.2 526.3,342.1 524.9,340.3 526.3,338.7 526.8,338.4 529.5,337.6ZM203.2,344.1 202.0,344.2 202.0,344.1 202.0,344.1 203.2,344.1ZM574.4,344.0 574.8,344.1 574.4,344.3 571.9,344.1 574.4,344.0ZM266.2,345.3 268.7,346.1 269.4,346.5 270.5,348.0 272.6,349.0 275.8,349.7 276.2,349.9 277.6,351.9 276.0,353.8 275.8,353.9 272.6,354.8 269.5,353.8 269.4,353.7 267.8,351.9 266.2,350.6 263.7,349.9 263.0,349.5 261.6,348.0 263.0,346.4 263.5,346.1 266.2,345.3ZM202.6,351.9 202.0,351.9 202.0,351.9 202.0,351.8 202.6,351.9ZM574.4,351.8 574.5,351.9 574.4,351.9 574.0,351.9 574.4,351.8ZM259.7,357.0 263.0,357.1 266.2,357.1 268.2,357.7 269.4,358.3 270.5,359.6 272.6,360.9 274.8,361.5 275.8,362.1 276.9,363.4 275.8,364.9 275.1,365.4 272.6,366.2 270.2,365.4 269.4,364.8 268.5,363.4 266.2,362.1 263.0,362.1 259.7,362.2 257.3,361.5 256.5,361.1 255.2,359.6 256.5,358.1 257.3,357.7 259.7,357.0ZM285.4,356.9 287.5,357.7 288.6,358.5 289.5,359.6 288.6,360.8 287.7,361.5 285.4,362.3 283.0,361.5 282.2,361.0 281.1,359.6 282.2,358.2 283.0,357.7 285.4,356.9ZM500.6,357.5 503.8,356.6 507.0,357.5 507.3,357.7 508.6,359.6 507.0,361.5 507.0,361.5 503.8,362.6 500.6,361.8 500.2,361.5 498.8,359.6 500.3,357.7 500.6,357.5ZM523.0,356.7 524.5,357.7 526.3,358.7 527.8,359.6 526.3,361.1 525.4,361.5 523.0,362.1 520.7,363.4 520.8,365.4 520.9,367.3 519.8,368.7 519.0,369.2 516.6,370.0 514.1,369.2 513.4,368.8 512.3,367.3 512.4,365.4 512.5,363.4 513.4,362.3 514.5,361.5 516.6,360.9 518.7,359.6 519.8,358.0 520.4,357.7 523.0,356.7ZM471.7,364.9 474.9,365.0 478.1,365.0 479.6,365.4 481.3,366.1 482.6,367.3 481.3,368.6 479.9,369.2 478.1,369.7 474.9,369.7 471.7,369.7 470.0,369.2 468.5,368.5 467.4,367.3 468.5,366.2 470.1,365.4 471.7,364.9ZM221.2,367.1 221.5,367.3 221.2,367.5 218.6,367.3 221.2,367.1ZM497.4,368.4 500.0,369.2 500.6,369.6 501.9,371.2 500.6,372.8 500.0,373.1 497.4,373.9 494.7,373.1 494.2,372.8 492.8,371.2 494.2,369.6 494.7,369.2 497.4,368.4ZM535.9,368.4 538.5,369.2 539.1,369.6 540.4,371.2 539.1,372.7 538.3,373.1 535.9,373.8 533.8,375.0 532.7,376.5 532.0,377.0 529.5,377.8 526.8,377.0 526.3,376.6 524.9,375.0 526.3,373.6 527.2,373.1 529.5,372.4 531.6,371.2 532.7,369.7 533.4,369.2 535.9,368.4ZM471.7,372.4 474.9,372.4 478.1,372.3 481.1,373.1 481.3,373.2 482.9,375.0 482.8,377.0 482.8,378.9 481.3,378.9 478.1,378.9 474.9,378.9 471.7,378.9 468.5,378.9 467.5,378.9 467.5,377.0 467.4,375.0 468.5,373.6 469.4,373.1 471.7,372.4Z" fill="#00ffaa" fill-rule="evenodd"/>
<path d="M439.6,239.9 439.6,239.9 439.6,240.0 439.5,239.9 439.6,239.9ZM420.3,262.7 421.0,263.1 420.3,263.3 420.1,263.1 420.3,262.7ZM413.9,274.6 414.0,274.7 413.9,274.7 413.7,274.7 413.9,274.6ZM394.6,286.2 397.8,286.2 401.0,286.1 401.1,286.2 401.3,288.2 401.4,290.1 401.6,292.0 401.7,294.0 401.0,294.4 400.2,294.0 399.7,292.0 397.8,290.7 394.6,290.4 394.4,290.1 394.5,288.2 394.6,286.3 394.6,286.2ZM375.3,305.2 378.6,305.2 381.8,305.2 382.7,305.5 382.4,307.5 382.2,309.4 381.8,309.5 378.6,309.6 375.3,309.6 374.9,309.4 374.8,307.5 374.7,305.6 375.3,305.2ZM433.1,309.0 433.5,309.4 433.1,309.6 432.6,309.4 433.1,309.0ZM368.9,320.9 369.0,321.0 368.9,321.0 368.8,321.0 368.9,320.9ZM356.1,324.8 356.1,324.9 356.3,326.8 356.6,328.7 356.5,330.6 356.4,332.6 356.1,332.8 352.9,333.0 350.6,334.5 350.3,336.4 350.2,338.4 350.2,340.3 350.0,342.2 349.8,344.1 349.7,344.2 346.7,344.1 349.0,342.2 349.1,340.3 349.1,338.4 349.0,336.4 349.2,334.5 349.4,332.6 349.7,332.4 352.9,332.1 355.1,330.6 355.5,328.7 355.8,326.8 356.1,324.9 356.1,324.8ZM381.8,325.4 381.9,326.8 382.0,328.7 381.8,328.9 381.3,328.7 381.6,326.8 381.8,325.4ZM368.9,339.9 372.1,339.9 375.3,340.0 375.9,340.3 375.8,342.2 375.3,343.6 374.2,344.1 372.1,344.3 368.9,344.4 368.5,344.1 368.4,342.2 368.3,340.3 368.9,339.9ZM378.6,344.0 381.8,343.9 385.0,343.9 388.2,343.7 388.6,344.1 388.2,344.6 385.0,344.4 381.8,344.3 378.6,344.2 376.7,344.1 378.6,344.0ZM420.3,351.6 420.6,351.9 420.3,352.0 420.0,351.9 420.3,351.6ZM349.7,355.7 349.7,355.7 349.7,355.8 349.6,355.7 349.7,355.7ZM356.1,363.2 356.5,363.4 356.1,363.7 355.6,363.5 356.1,363.2ZM375.3,371.0 378.6,371.1 381.8,371.1 385.0,371.0 388.2,371.0 388.5,371.2 388.2,371.4 385.0,371.3 381.8,371.2 378.6,371.2 375.3,371.3 375.2,371.2 375.3,371.0ZM433.1,371.0 433.7,371.2 433.1,371.6 432.5,371.2 433.1,371.0ZM368.9,374.7 369.4,375.0 368.9,375.3 368.4,375.0 368.9,374.7Z" fill="#000" fill-rule="evenodd"/>
<path d="M356.8,189.8 356.1,190.2 355.3,189.8M411.9,189.8 412.0,191.7 412.1,193.6 410.9,195.5 410.7,195.7 407.5,196.5 404.2,195.6 404.2,195.5 402.8,193.6 402.9,191.7 403.0,189.8M326.8,378.9 327.2,378.8 330.4,378.4 333.6,378.1 336.7,377.0 336.8,376.9 337.3,377.0 340.0,377.3 343.2,377.8 345.4,377.0 346.4,376.1 347.2,375.0 346.4,374.3 343.8,373.1 343.2,373.0 340.0,372.0 338.8,371.2 340.0,370.9 343.2,370.5 346.4,369.9 347.6,369.2 348.5,367.3 346.9,365.4 346.4,365.2 343.2,364.6 341.2,363.4 340.4,361.5 340.0,361.0 338.6,359.6 340.0,358.1 340.8,357.7 343.2,356.9 344.2,355.7 344.9,353.8 346.4,353.6 349.7,353.6 351.0,353.8 352.9,354.2 356.1,355.4 358.0,355.7 358.3,357.7 358.5,359.6 359.3,359.9 362.1,361.5 362.5,361.9 363.9,361.5 365.7,360.6 366.7,359.6 366.8,357.7 366.9,355.7 368.9,354.6 371.6,353.8 372.1,353.4 373.2,351.9 372.1,351.2 369.7,349.9 368.9,349.5 367.4,349.9 365.7,350.9 364.9,351.9 362.5,353.5 361.6,351.9 361.7,349.9 361.7,348.0 360.7,346.1 359.3,345.3 356.1,344.7 352.9,345.8 351.1,346.1 349.7,346.3 346.4,347.0 344.1,348.0 344.1,349.9 344.1,351.9 343.2,353.4 341.0,351.9 340.0,350.8 338.2,349.9 336.8,349.6 335.3,349.9 333.6,350.9 332.9,351.9 330.4,353.4 327.9,351.9 327.2,350.8 325.9,349.9 324.0,349.4 321.1,348.0 324.0,346.3 327.2,347.4 330.4,347.7 333.6,347.1 335.1,346.1 336.0,344.1 336.1,342.2 336.1,340.3 335.9,338.4 335.6,336.4 335.8,334.5 336.1,332.6 336.8,330.9 337.7,330.6 340.0,329.2 340.4,328.7 340.4,326.8 340.3,324.9 340.0,324.4 337.6,322.9 336.8,322.7 333.6,321.0 333.6,321.0 330.5,319.1 330.4,319.0 327.9,317.1 327.2,316.2 326.6,315.2 325.9,313.3 327.2,311.4 327.3,311.3 330.4,310.4 333.6,310.6 336.8,311.1 340.0,311.2 343.2,311.2 346.3,309.4 346.4,309.3 349.3,307.5 349.7,307.1 350.0,307.5 350.7,309.4 351.7,311.3 352.9,312.1 356.1,312.6 357.2,313.3 358.6,315.2 359.3,315.8 360.9,317.1 362.5,318.9 365.7,317.3 366.7,317.1 368.9,316.8 372.1,316.5 375.3,315.4 376.0,317.1 376.8,319.1 377.4,321.0 378.6,321.9 381.8,322.7 382.8,322.9 385.0,323.5 387.5,324.9 387.4,326.8 387.2,328.7 386.1,330.6 385.0,331.3 381.8,331.9 378.6,332.3 377.5,332.6 378.6,333.6 380.4,334.5 381.8,334.8 385.0,335.1 388.2,335.4 390.5,334.5 391.4,333.4 391.7,332.6 394.6,330.7 397.5,332.6 396.9,334.5 396.1,336.4 396.3,338.4 396.4,340.3 397.8,341.9 398.3,342.2 401.0,343.0 402.9,344.1 401.0,345.3 398.2,346.1 397.8,346.3 396.2,348.0 394.6,349.0 393.7,349.9 392.5,351.9 393.9,353.8 394.6,354.5 396.1,353.8 397.8,352.3 398.1,351.9 401.0,350.1 402.0,349.9 404.2,349.2 405.7,348.0 407.5,347.0 409.5,346.1 410.7,344.8 411.0,344.1 410.7,344.0 408.0,342.2 407.5,341.5 405.4,340.3 407.5,338.9 407.9,338.4 410.7,336.8 412.0,336.4 413.9,336.1 417.1,335.8 420.3,334.7 421.1,336.4 421.0,338.4 420.9,340.3 421.0,342.2 421.0,344.1 421.9,346.1 422.5,348.0 423.5,349.2 424.2,349.9 426.1,351.9 425.2,353.8 423.5,354.8 420.3,355.2 417.4,353.8 417.1,353.6 414.8,351.9 414.2,349.9 413.9,349.4 412.1,349.9 410.7,350.9 410.0,351.9 408.7,353.8 408.4,355.7 409.6,357.7 410.7,358.7 412.0,359.6 410.7,360.4 409.5,361.5 408.3,363.4 407.5,365.1 406.5,365.4 404.2,366.4 403.2,367.3 404.2,368.4 406.7,369.2 407.5,369.4 408.0,369.2 410.7,368.3 411.7,367.3 413.9,366.9 417.1,366.6 420.0,365.4 420.3,365.0 420.4,365.4 421.1,367.3 420.3,369.2 420.3,369.3 417.1,371.0 416.9,371.2 413.9,371.6 410.7,371.7 407.5,371.8 404.2,372.1 402.6,373.1 402.1,375.0 402.7,377.0 404.2,377.9 407.5,378.4 410.7,378.9 410.7,378.9M424.3,378.9 425.4,377.0 425.7,375.0 425.2,373.1 423.5,371.2 423.3,371.2 423.5,371.1 426.7,370.6 429.9,369.5 431.3,369.2 433.1,369.0 436.4,368.7 438.4,367.3 438.4,365.4 438.4,363.4 438.0,361.5 436.4,359.6 436.3,359.6 433.1,357.8 433.0,357.7 430.1,355.7 433.1,355.2 436.4,354.8 439.4,353.8 439.6,353.7 442.4,351.9 442.8,351.1 443.7,349.9 446.0,348.9 446.5,349.9 447.1,351.9 447.1,353.8 447.0,355.7 447.0,357.7 447.0,359.6 447.6,361.5 449.2,363.2 449.6,363.4 452.4,364.5 454.1,365.4 454.8,367.3 452.4,368.6 449.2,368.6 446.0,368.5 444.1,369.2 442.8,370.0 441.3,371.2 442.8,371.5 445.6,373.1 446.0,373.5 449.2,374.4 452.4,374.7 455.6,374.5 458.8,374.2 460.1,375.0 459.8,377.0 459.4,378.9M450.9,378.9 449.2,377.2 448.5,377.0 446.0,376.4 445.5,377.0 442.8,378.7 442.2,378.9M470.8,378.9 470.9,377.0 471.0,375.0 471.7,374.6 474.9,374.5 478.1,374.3 479.4,375.0 479.4,377.0 479.4,378.9M378.6,193.3 381.8,193.0 385.0,193.5 385.4,193.6 385.0,195.1 384.3,195.5 381.8,195.8 381.5,195.5 378.6,194.0 376.8,193.6 378.6,193.3M394.6,192.2 396.7,193.6 394.6,194.0 391.9,193.6 394.6,192.2M340.0,197.4 343.2,197.2 346.4,197.4 346.8,197.5 349.7,198.7 349.9,199.4 350.6,201.3 349.7,201.9 346.4,201.4 346.0,201.3 344.8,199.4 343.2,199.2 340.0,197.6 339.3,197.5 340.0,197.4M388.2,196.1 388.7,197.5 388.2,197.8 385.8,197.5 388.2,196.1M378.6,199.4 378.6,199.4 378.6,199.5 378.5,199.4 378.6,199.4M375.3,200.7 376.3,201.3 375.3,201.9 374.2,201.3 375.3,200.7M401.0,199.6 401.7,201.3 401.1,203.3 401.0,203.4 401.0,203.3 400.3,201.3 401.0,199.6M378.6,203.1 378.7,203.3 378.6,203.4 378.3,203.3 378.6,203.1M407.5,206.9 408.5,207.1 410.7,208.1 411.4,209.0 411.5,211.0 411.7,212.9 410.7,213.0 407.5,213.4 404.9,212.9 404.3,211.0 404.2,210.6 403.9,209.0 404.2,208.6 406.7,207.1 407.5,206.9M285.4,212.1 286.7,212.9 285.4,213.7 284.2,212.9 285.4,212.1M330.4,212.3 331.4,212.9 330.4,213.5 329.3,212.9 330.4,212.3M298.3,216.4 299.0,216.8 298.3,217.2 297.6,216.8 298.3,216.4M446.0,222.2 446.2,222.6 448.8,224.5 446.0,225.9 444.5,226.4 443.9,228.3 445.2,230.3 446.0,230.9 448.3,232.2 446.0,232.6 442.8,233.1 439.6,233.5 437.4,232.2 437.2,230.3 437.1,228.3 437.7,226.4 439.6,225.4 442.8,224.9 443.1,224.5 445.2,222.6 446.0,222.2M394.6,235.5 397.8,235.5 401.0,235.6 402.0,236.1 401.0,236.5 397.8,236.9 395.1,238.0 394.6,238.5 394.4,238.0 393.6,236.1 394.6,235.5M381.8,237.5 381.9,238.0 382.3,239.9 381.8,240.3 381.2,239.9 381.6,238.0 381.8,237.5M426.7,237.2 427.2,238.0 429.9,239.7 431.0,239.9 429.9,240.1 426.7,240.4 425.9,239.9 426.4,238.0 426.7,237.2M439.6,237.8 440.4,238.0 442.8,239.5 443.2,239.9 442.8,240.4 440.3,241.9 439.6,242.1 438.4,241.9 436.4,241.4 433.5,239.9 436.4,238.5 438.2,238.0 439.6,237.8M452.4,240.7 453.9,241.9 455.6,242.8 458.0,243.8 456.6,245.7 455.6,246.1 452.4,246.5 451.3,245.7 450.5,243.8 451.5,241.9 452.4,240.7M433.1,248.8 436.4,249.2 439.6,249.5 442.8,249.5 446.0,249.5 446.3,249.6 449.2,251.3 449.3,251.5 449.2,251.6 446.0,253.3 442.8,253.2 439.6,253.0 437.7,253.4 436.4,254.0 434.8,255.4 435.0,257.3 435.2,259.2 433.1,260.5 432.4,261.2 431.0,263.1 432.0,265.0 433.1,265.3 434.1,265.0 436.4,264.0 437.3,263.1 439.6,261.7 442.1,263.1 440.8,265.0 440.4,266.9 441.1,268.9 442.8,270.4 443.8,270.8 442.8,271.0 439.6,271.5 436.4,271.7 433.1,272.5 432.4,272.7 431.5,274.7 432.6,276.6 433.1,276.9 433.9,278.5 433.1,279.0 429.9,279.0 426.7,278.9 423.5,278.9 420.3,278.8 418.5,278.5 417.1,278.2 413.9,277.9 410.7,278.3 410.1,278.5 410.7,279.1 413.3,280.5 413.9,280.6 414.9,282.4 415.5,284.3 417.1,285.3 420.3,285.6 421.4,286.2 422.5,288.2 423.5,288.8 426.7,289.4 429.9,289.1 432.8,288.2 433.1,288.0 433.9,288.2 436.3,290.1 436.3,292.0 436.3,294.0 433.1,295.7 430.0,294.0 429.9,293.9 426.8,292.0 426.7,292.0 426.7,292.0 423.5,293.6 423.1,294.0 420.3,294.5 417.1,294.4 413.9,294.4 410.7,294.5 407.5,294.6 405.1,295.9 404.2,296.4 402.1,297.8 401.0,299.7 400.7,299.8 397.8,301.5 397.7,301.7 397.8,301.8 400.7,303.6 401.0,303.7 401.3,303.6 404.2,302.2 405.2,301.7 407.5,301.3 410.7,301.3 413.9,301.3 414.6,301.7 415.0,303.6 416.6,305.6 416.9,307.5 417.1,309.0 417.1,309.4 417.1,309.5 415.1,311.3 413.9,311.8 410.7,313.0 410.3,313.3 407.5,313.6 404.2,313.9 401.0,314.7 397.8,315.1 397.2,315.2 394.6,315.5 394.4,315.2 393.5,313.3 392.6,311.3 391.4,310.5 388.2,309.9 385.0,311.0 383.5,311.3 381.8,311.6 378.6,312.1 375.3,312.9 372.1,311.5 371.7,311.3 368.9,309.9 368.0,309.4 367.4,307.5 365.7,305.6 365.7,305.6 365.7,305.4 365.8,303.6 365.9,301.7 367.4,299.8 368.0,297.8 368.0,295.9 367.9,294.0 368.0,292.0 368.0,290.1 367.4,288.2 365.7,286.5 365.2,286.2 365.7,286.1 368.5,284.3 368.9,283.7 370.5,284.3 372.1,286.0 372.2,286.2 373.9,288.2 375.3,288.9 378.6,289.4 381.8,289.5 384.9,290.1 384.8,292.0 384.8,294.0 385.0,294.4 388.2,295.2 390.6,294.0 389.5,292.0 389.0,290.1 390.2,288.2 391.1,286.2 391.4,285.5 392.0,284.3 393.9,282.4 393.1,280.5 391.4,279.6 388.2,279.2 385.0,278.8 383.1,278.5 385.0,278.0 387.8,276.6 388.2,276.3 391.4,274.8 391.5,274.7 394.6,272.8 394.7,272.7 397.8,270.9 398.0,270.8 401.0,270.4 404.2,269.5 405.6,268.9 407.5,267.5 409.4,268.9 410.7,269.4 413.9,270.2 417.1,269.4 418.6,268.9 420.3,268.0 422.7,268.9 423.5,269.5 424.5,270.8 426.7,272.1 429.9,271.8 430.8,270.8 430.6,268.9 430.3,266.9 429.9,266.3 426.7,265.7 423.5,266.2 420.3,266.5 418.0,265.0 417.1,263.9 416.6,263.1 417.1,261.5 417.2,261.2 418.2,259.2 418.3,257.3 417.1,256.0 413.9,256.0 412.8,255.4 413.9,254.7 417.1,255.2 418.1,255.4 420.3,256.1 421.5,255.4 423.5,254.8 426.7,254.1 429.9,253.8 431.1,253.4 432.3,251.5 432.9,249.6 433.1,248.8M394.6,250.8 397.8,251.3 398.9,251.5 397.8,252.4 395.1,253.4 394.6,253.5 394.5,253.4 393.4,251.5 394.6,250.8M410.7,253.2 411.2,253.4 410.7,253.7 410.3,253.4 410.7,253.2M388.2,256.9 388.7,257.3 390.4,259.2 388.2,260.8 387.6,259.2 388.1,257.3 388.2,256.9M394.6,261.1 394.6,261.2 395.7,263.1 395.7,265.0 395.8,266.9 395.2,268.9 394.6,269.3 394.3,268.9 393.4,266.9 392.9,265.0 391.4,263.3 391.0,263.1 391.4,261.8 393.9,261.2 394.6,261.1M452.4,261.5 455.6,263.0 455.7,263.1 455.6,263.1 452.5,265.0 452.4,265.1 452.4,265.0 449.8,263.1 452.4,261.5M362.5,264.0 365.7,264.3 368.9,264.6 369.1,265.0 369.9,266.9 368.9,267.6 365.7,268.0 363.5,268.9 362.5,269.9 361.8,268.9 361.5,266.9 362.1,265.0 362.5,264.0M324.0,271.9 324.7,272.7 327.2,273.7 330.4,274.0 331.5,274.7 330.6,276.6 330.4,276.9 327.4,278.5 327.2,278.6 324.0,279.1 323.0,278.5 323.0,276.6 323.1,274.7 323.7,272.7 324.0,271.9M333.6,272.5 334.0,272.7 333.6,273.1 333.1,272.7 333.6,272.5M352.9,278.3 356.1,277.8 357.4,278.5 356.2,280.5 356.1,280.7 352.9,280.8 351.9,282.4 349.7,283.7 346.4,283.9 343.2,284.0 340.2,282.4 343.2,281.8 346.4,281.6 349.7,280.5 350.6,280.5 351.7,278.5 352.9,278.3M436.4,280.3 436.5,280.5 436.4,280.6 436.1,280.5 436.4,280.3M458.8,279.3 459.3,280.5 459.9,282.4 460.4,284.3 462.0,286.2 462.2,286.2 462.0,286.3 458.9,288.2 458.8,288.3 458.5,288.2 455.6,286.5 455.4,286.2 455.0,284.3 454.5,282.4 455.6,282.0 458.0,280.5 458.8,279.3M272.6,281.9 273.4,282.4 272.6,282.8 271.8,282.4 272.6,281.9M275.8,284.2 276.0,284.3 275.8,284.4 275.6,284.3 275.8,284.2M317.5,283.7 317.7,284.3 318.1,286.2 317.8,288.2 317.5,288.8 317.4,288.2 316.9,286.2 317.4,284.3 317.5,283.7M336.8,284.2 338.3,284.3 339.9,286.2 340.0,287.4 340.1,288.2 340.4,290.1 340.0,291.9 339.9,292.0 336.8,292.5 336.4,292.0 333.6,290.4 332.9,290.1 333.2,288.2 333.4,286.2 333.6,286.0 336.5,284.3 336.8,284.2M356.1,284.3 356.1,284.3 359.3,286.1 359.8,286.2 359.3,286.3 356.1,286.9 352.9,286.3 352.8,286.3 352.9,285.9 355.4,284.3 356.1,284.3M497.4,285.8 498.1,286.2 497.4,286.7 496.7,286.2 497.4,285.8M272.6,289.6 275.8,289.8 277.1,290.1 275.8,290.3 272.6,290.6 272.1,290.1 272.6,289.6M375.3,291.0 373.1,292.0 372.1,293.0 371.5,294.0 372.1,294.9 373.4,295.9 375.3,296.7 377.2,297.8 377.3,299.8 377.3,301.7 378.6,301.9 381.8,302.3 384.1,301.7 384.0,299.8 383.9,297.8 382.4,295.9 381.8,295.8 378.8,294.0 378.6,293.5 377.3,292.0 375.3,291.0M343.2,292.7 343.8,294.0 343.2,294.3 340.8,294.0 343.2,292.7M356.1,292.7 358.1,294.0 358.2,295.9 358.2,297.8 358.5,299.8 359.3,301.6 359.4,301.7 359.3,301.8 356.8,303.6 356.1,303.9 355.0,303.6 352.9,302.8 351.6,301.7 352.9,300.8 353.4,299.8 353.8,297.8 353.9,295.9 354.0,294.0 356.1,292.7M452.4,292.5 453.0,294.0 452.4,294.3 450.3,294.0 452.4,292.5M426.7,296.2 429.2,297.8 429.2,299.8 429.2,301.7 426.7,302.1 425.9,301.7 425.9,299.8 425.8,297.8 426.7,296.2M333.6,299.5 334.2,299.8 333.6,300.2 333.1,299.8 333.6,299.5M291.9,301.4 295.1,301.6 295.7,301.7 295.1,301.7 291.9,302.0 291.3,301.7 291.9,301.4M336.8,300.9 338.1,301.7 336.8,302.4 335.5,301.7 336.8,300.9M436.4,301.6 439.6,299.9 442.8,300.0 446.0,300.3 446.6,301.7 446.0,302.1 442.8,302.6 440.2,303.6 439.6,304.1 436.4,305.6 436.8,307.5 436.9,309.4 436.4,310.1 434.3,311.3 433.1,311.7 429.9,311.5 429.3,311.3 427.5,309.4 429.7,307.5 429.9,307.3 432.3,305.5 433.1,304.0 436.1,303.6 436.3,301.7 436.4,301.6M471.7,303.2 472.9,303.6 474.9,305.2 475.1,305.6 475.9,307.5 476.7,309.4 474.9,309.7 471.7,310.1 468.5,309.8 467.3,309.4 468.5,308.9 470.0,307.5 470.8,305.6 471.5,303.6 471.7,303.2M317.5,313.0 319.2,313.3 317.5,314.3 317.0,313.3 317.5,313.0M446.0,312.9 449.2,312.8 452.4,312.6 455.6,313.1 456.5,313.3 455.6,313.5 452.4,315.2 452.3,315.2 449.2,316.7 448.9,317.1 449.0,319.1 449.2,321.0 449.2,321.1 451.4,322.9 452.4,323.2 455.6,324.1 458.8,324.4 459.6,324.9 458.8,325.3 455.6,325.3 452.4,325.3 449.2,325.2 446.0,325.2 442.8,325.5 439.6,326.7 436.8,324.9 436.6,322.9 436.4,321.8 436.2,321.0 436.4,321.0 439.6,320.6 442.8,320.0 444.2,319.1 445.1,317.1 445.2,315.2 445.4,313.3 446.0,312.9M311.1,316.4 314.3,317.1 314.1,319.1 311.1,319.5 310.7,319.1 309.9,317.1 311.1,316.4M394.6,318.7 395.6,319.1 397.8,320.6 398.1,321.0 397.8,321.1 394.6,321.7 393.4,321.0 394.4,319.1 394.6,318.7M317.5,319.5 320.7,321.0 317.5,321.4 314.4,321.0 317.5,319.5M407.5,320.6 410.1,321.0 407.5,322.1 405.1,321.0 407.5,320.6M417.1,320.9 420.3,320.4 421.3,321.0 420.3,322.7 417.1,321.3 416.7,321.0 417.1,320.9M349.7,322.8 349.1,322.9 346.4,324.1 345.9,324.9 346.4,325.5 349.1,326.8 349.7,326.9 349.7,326.8 350.8,324.9 349.8,322.9 349.7,322.8M362.5,322.9 362.5,322.9 361.5,324.9 362.3,326.8 362.5,327.3 363.1,328.7 364.1,330.6 365.7,331.5 368.9,332.1 372.1,331.4 373.0,330.6 373.5,328.7 372.2,326.8 372.1,326.8 368.9,325.4 366.0,324.9 365.7,324.7 362.6,322.9 362.5,322.9M426.7,324.3 429.6,324.9 429.9,325.1 432.6,326.8 433.1,327.1 436.1,328.7 434.5,330.6 434.1,332.6 433.5,334.5 433.1,335.6 432.3,334.5 429.9,333.4 426.7,333.0 424.0,332.6 423.5,332.0 422.8,330.6 422.3,328.7 422.8,326.8 423.5,325.3 423.8,324.9 426.7,324.3M410.7,326.4 413.9,326.1 416.3,326.8 417.1,327.2 418.4,328.7 417.1,329.5 413.9,330.0 410.7,330.4 410.1,330.6 408.3,332.6 407.5,334.3 404.9,332.6 404.2,331.9 402.3,330.6 401.0,330.2 398.3,328.7 401.0,327.1 404.2,327.0 407.5,327.0 408.4,326.8 410.7,326.4M307.9,328.7 311.1,327.2 313.6,328.7 311.1,330.4 307.9,328.8 307.7,328.7 307.9,328.7M295.1,330.3 295.6,330.6 295.1,331.0 294.4,330.6 295.1,330.3M465.3,330.3 468.5,330.3 471.7,330.4 474.9,330.5 476.7,330.6 478.1,330.7 478.9,332.6 478.1,334.4 474.9,334.4 471.7,334.4 468.5,334.5 468.4,334.5 465.3,334.7 465.1,334.5 464.1,332.6 465.0,330.6 465.3,330.3M288.6,332.2 291.9,331.8 293.1,332.6 292.2,334.5 291.9,335.0 289.9,334.5 288.6,334.0 286.8,332.6 288.6,332.2M317.5,330.9 320.3,332.6 320.6,334.5 320.8,335.3 321.0,336.4 320.8,336.7 317.5,338.3 316.6,336.4 316.2,334.5 314.4,332.6 317.5,330.9M542.3,331.8 543.6,332.6 542.3,333.3 541.1,332.6 542.3,331.8M446.0,334.1 446.2,334.5 446.6,336.4 446.0,336.9 445.3,336.4 445.9,334.5 446.0,334.1M497.4,333.7 498.0,334.5 500.6,335.4 503.8,335.7 505.1,336.4 505.4,338.4 506.9,340.3 503.8,342.2 500.6,340.3 500.6,340.3 497.4,338.6 497.3,338.4 496.5,336.4 497.1,334.5 497.4,333.7M471.7,339.2 474.9,340.3 471.7,342.2 469.3,340.3 471.7,339.2M458.8,341.2 459.6,342.2 460.0,344.1 460.0,346.1 460.1,348.0 460.6,349.9 461.1,351.9 461.0,353.8 461.0,355.7 460.0,357.7 458.8,359.1 457.7,357.7 456.7,355.7 456.7,353.8 456.7,351.9 457.1,349.9 457.6,348.0 457.6,346.1 457.6,344.1 458.3,342.2 458.8,341.2M301.5,344.0 304.7,343.6 307.9,344.0 308.6,344.1 307.9,344.3 304.7,344.7 301.5,344.5 300.1,344.1 301.5,344.0M433.1,343.8 433.7,344.1 433.1,344.5 432.6,344.1 433.1,343.8M269.4,349.6 270.0,349.9 269.4,350.3 268.9,349.9 269.4,349.6M298.3,349.7 298.3,349.9 298.8,351.9 298.3,353.5 297.8,351.9 298.2,349.9 298.3,349.7M272.6,351.1 273.9,351.9 272.6,352.6 271.3,351.9 272.6,351.1M490.9,351.5 491.6,351.9 490.9,352.2 487.8,351.9 490.9,351.5M317.5,353.7 318.5,353.8 320.8,354.2 324.0,354.7 325.6,355.7 324.0,356.8 320.8,357.2 317.5,357.5 314.3,356.0 314.1,355.7 314.3,355.6 317.4,353.8 317.5,353.7M474.9,355.5 478.1,355.1 481.3,355.6 481.7,355.7 481.3,356.4 479.2,357.7 478.1,357.9 475.3,359.6 474.9,359.7 471.7,360.2 470.7,359.6 471.3,357.7 471.7,356.7 473.3,355.7 474.9,355.5M298.3,357.5 298.5,357.7 300.8,359.6 298.3,360.1 297.5,359.6 298.2,357.7 298.3,357.5M375.3,356.9 373.2,357.7 372.1,358.5 371.4,359.6 371.7,361.5 371.9,363.4 372.1,363.6 375.3,364.8 378.6,365.2 379.3,365.4 381.8,366.1 383.4,365.4 385.0,364.0 385.4,363.4 385.9,361.5 386.0,359.6 385.0,358.0 384.6,357.7 381.8,356.4 378.6,356.5 375.3,356.9M503.8,358.8 505.1,359.6 503.8,360.4 502.4,359.6 503.8,358.8M317.5,362.3 319.8,363.4 317.5,364.9 315.1,363.4 317.5,362.3M304.7,373.5 307.6,375.0 304.7,376.3 302.4,375.0 304.7,373.5M378.6,374.9 378.1,375.0 378.6,375.7 380.2,377.0 381.8,377.6 383.4,377.0 385.0,375.7 385.4,375.0 385.0,374.9 381.8,374.3 378.6,374.9M410.4,189.8 410.5,191.7 410.6,193.6 407.6,195.5 407.5,195.6 407.3,195.5 404.3,193.6 404.4,191.7 404.5,189.8M335.5,378.9 336.8,378.8 337.6,378.9M373.9,378.9 372.1,378.7 368.9,378.6 365.7,378.4 362.5,377.0 359.3,377.7 356.1,377.9 352.9,377.6 351.2,377.0 350.0,375.0 350.9,373.1 352.9,372.0 356.1,371.6 356.6,371.2 357.6,369.2 359.3,368.3 362.5,367.7 363.3,367.3 363.5,365.4 365.7,363.4 365.7,363.4 368.9,362.6 369.1,363.4 372.1,365.1 372.9,365.4 375.3,365.9 378.6,366.7 380.1,367.3 381.8,367.6 385.0,367.5 387.7,367.3 388.2,365.7 388.2,365.4 388.4,363.4 388.2,363.4 387.0,361.5 386.7,359.6 385.8,357.7 385.0,356.9 381.8,355.8 379.9,355.7 381.8,354.4 382.0,353.8 382.7,351.9 382.7,349.9 382.8,348.0 381.8,347.8 380.7,348.0 379.7,349.9 378.6,350.7 375.3,351.3 372.9,349.9 372.1,349.5 369.1,348.0 368.9,348.0 365.7,347.8 362.8,346.1 362.5,344.1 362.5,344.0 359.3,343.5 357.4,342.2 356.7,340.3 357.6,338.4 358.2,336.4 356.1,336.3 355.9,336.4 356.0,338.4 356.0,340.3 356.0,342.2 356.0,344.1 352.9,345.3 349.7,346.0 348.9,346.1 346.4,346.6 343.2,347.9 340.0,347.9 336.9,348.0 336.8,348.0 336.8,348.0 336.8,347.9 337.0,346.1 337.0,344.1 337.3,342.2 340.0,340.4 341.5,340.3 340.0,339.0 338.2,338.4 336.8,338.1 336.5,336.4 336.8,334.5 336.8,334.4 338.9,334.5 340.0,334.6 343.2,334.9 343.3,334.5 343.5,332.6 343.6,330.6 346.0,328.7 346.4,328.6 349.7,328.3 350.7,326.8 351.6,324.9 351.2,322.9 349.7,321.4 346.8,321.0 349.7,319.4 349.9,319.1 350.7,317.1 350.8,315.2 351.9,313.3 352.9,313.2 356.1,313.2 356.2,313.3 357.4,315.2 359.3,317.1 359.4,317.1 360.3,319.1 362.5,320.7 364.2,319.1 365.7,318.3 368.9,317.4 372.1,317.5 375.3,317.9 375.9,319.1 376.6,321.0 378.6,322.6 380.4,322.9 381.8,323.1 385.0,324.0 386.6,324.9 386.5,326.8 386.4,328.7 385.0,330.4 384.5,330.6 381.8,331.4 378.6,331.5 375.3,331.9 374.5,330.6 374.3,328.7 373.5,326.8 372.1,325.7 369.0,324.9 368.9,324.8 365.7,323.8 364.2,322.9 362.5,321.2 361.0,322.9 360.7,324.9 361.4,326.8 362.2,328.7 362.4,330.6 362.5,331.6 365.3,332.6 365.7,332.9 368.9,334.3 369.3,334.5 372.1,336.4 372.2,336.4 375.3,336.5 378.6,336.5 380.9,336.4 381.8,336.4 382.2,336.4 385.0,337.1 388.2,337.1 391.4,338.0 392.1,338.4 393.5,340.3 394.0,342.2 394.2,344.1 393.9,346.1 393.3,348.0 391.9,349.9 391.4,351.0 391.1,351.9 391.4,352.6 392.0,353.8 393.7,355.7 394.1,357.7 394.6,359.6 394.6,359.6 397.8,360.5 399.3,361.5 400.5,363.4 399.4,365.4 397.8,366.6 395.8,367.3 394.6,368.6 394.5,369.2 394.4,371.2 394.2,373.1 391.4,374.9 389.9,375.0 388.2,376.7 387.9,375.0 385.0,374.4 381.8,373.9 378.6,374.4 375.5,375.0 375.8,377.0 377.8,378.9M473.1,378.9 474.9,377.3 475.2,377.0 476.3,375.0 478.1,374.9 478.3,375.0 478.3,377.0 478.3,378.9M381.8,193.6 381.8,193.6 381.8,193.6 381.8,193.6 381.8,193.6M407.5,208.7 408.1,209.0 407.5,210.6 406.8,209.0 407.5,208.7M285.4,212.8 285.6,212.9 285.4,213.0 285.3,212.9 285.4,212.8M439.6,226.4 439.7,226.4 442.5,228.3 442.8,229.3 443.2,230.3 444.9,232.2 442.8,232.5 439.6,233.0 438.3,232.2 438.1,230.3 437.9,228.3 439.5,226.4 439.6,226.4M436.4,238.9 439.6,238.1 442.6,239.9 439.6,241.7 436.4,240.9 434.4,239.9 436.4,238.9M452.4,242.0 455.6,243.8 452.4,245.3 451.3,243.8 452.4,242.0M394.6,251.4 395.0,251.5 394.6,251.7 394.5,251.5 394.6,251.4M446.0,251.3 446.3,251.5 446.0,251.7 443.1,251.5 446.0,251.3M413.9,255.3 414.2,255.4 413.9,255.4 413.8,255.4 413.9,255.3M426.7,254.6 429.9,254.9 431.6,255.4 431.9,257.3 432.3,259.2 430.5,261.2 429.9,262.2 429.6,263.1 426.7,264.8 426.0,265.0 423.5,265.6 420.3,266.0 418.8,265.0 417.1,263.1 417.9,261.2 419.1,259.2 420.3,257.4 420.5,257.3 423.5,255.4 423.6,255.4 426.7,254.6M394.6,263.0 394.6,263.1 394.8,265.0 394.9,266.9 394.6,267.4 394.4,266.9 394.4,265.0 394.5,263.1 394.6,263.0M362.5,266.7 365.6,266.9 362.5,267.2 362.4,266.9 362.5,266.7M433.1,266.8 436.4,266.9 436.9,266.9 436.4,268.0 433.1,268.4 432.9,266.9 433.1,266.8M407.5,268.9 407.5,268.9 410.7,270.2 413.8,270.8 413.9,270.8 414.0,270.8 417.1,270.2 420.3,269.0 422.9,270.8 423.5,272.0 425.0,272.7 426.7,273.0 429.8,274.7 429.3,276.6 426.7,277.9 423.5,277.2 422.3,276.6 420.8,274.7 420.3,274.3 420.1,274.7 419.2,276.6 417.1,277.3 413.9,277.5 410.7,277.4 407.5,276.6 404.2,278.0 401.0,278.3 397.8,277.7 396.1,276.6 395.4,274.7 397.8,273.0 398.3,272.7 401.0,271.3 402.1,270.8 404.2,270.3 407.4,268.9 407.5,268.9M439.6,268.7 439.6,268.9 439.9,270.8 439.6,270.9 437.4,270.8 438.5,268.9 439.6,268.7M330.4,274.6 330.4,274.7 330.4,274.8 329.2,274.7 330.4,274.6M356.1,278.4 356.3,278.5 356.1,279.0 355.2,278.5 356.1,278.4M388.2,278.3 389.8,278.5 388.2,278.6 387.8,278.5 388.2,278.3M397.8,279.5 401.0,278.8 404.2,279.1 407.1,280.5 407.5,281.1 410.7,282.2 413.9,282.3 413.9,282.4 413.9,282.7 410.7,282.9 407.5,283.1 407.2,284.3 407.0,286.2 407.2,288.2 407.4,290.1 407.5,291.9 407.7,292.0 408.5,294.0 407.5,294.0 404.2,295.8 404.2,295.9 401.1,297.8 401.0,298.0 399.8,297.8 397.8,297.7 394.6,296.9 393.4,297.8 394.1,299.8 394.6,300.7 395.0,301.7 395.0,303.6 394.6,305.1 394.5,305.6 394.5,307.5 391.4,308.8 388.2,308.8 387.9,309.4 385.0,310.6 381.8,311.3 381.3,311.3 378.6,311.7 375.3,312.4 372.9,311.3 372.1,311.0 369.0,309.4 369.0,307.5 368.9,305.7 368.9,305.6 368.8,303.6 368.6,301.7 368.9,299.8 368.9,298.2 369.6,299.8 370.4,301.7 372.1,301.8 375.3,301.9 378.6,302.4 381.8,302.8 385.0,302.1 385.7,301.7 385.5,299.8 385.3,297.8 388.2,296.1 390.4,295.9 391.4,295.6 392.4,294.0 391.4,293.1 390.6,292.0 389.8,290.1 390.9,288.2 391.4,286.9 391.6,286.2 392.7,284.3 394.6,282.6 395.8,282.4 396.5,280.5 397.8,279.5M458.8,282.0 459.0,282.4 458.9,284.3 458.8,284.5 458.8,284.3 458.3,282.4 458.8,282.0M336.8,286.1 337.1,286.2 337.3,288.2 337.5,290.1 336.8,290.6 336.0,290.1 336.3,288.2 336.5,286.2 336.8,286.1M356.1,286.2 356.3,286.2 356.1,286.3 355.9,286.2 356.1,286.2M368.9,286.1 369.1,286.2 368.9,288.2 368.9,288.3 368.9,288.2 368.7,286.2 368.9,286.1M420.3,286.2 420.4,286.2 420.5,288.2 423.5,290.0 426.7,290.0 429.9,290.0 432.7,290.1 429.9,290.4 426.7,290.4 423.5,290.5 420.3,292.0 420.3,292.2 420.0,292.0 417.1,291.2 413.9,291.0 410.7,290.6 409.8,290.1 410.7,289.9 413.9,289.4 417.1,289.0 418.5,288.2 419.4,286.2 420.3,286.2M381.8,290.5 382.1,292.0 382.4,294.0 381.8,294.3 381.2,294.0 381.3,292.0 381.8,290.5M433.1,290.4 433.4,292.0 433.6,294.0 433.1,294.2 432.7,294.0 432.7,292.0 433.1,290.4M356.1,293.2 357.3,294.0 357.4,295.9 357.5,297.8 357.3,299.8 356.8,301.7 356.1,302.2 355.1,301.7 354.7,299.8 354.6,297.8 354.7,295.9 354.8,294.0 356.1,293.2M336.8,301.5 337.1,301.7 336.8,301.8 336.6,301.7 336.8,301.5M439.6,301.3 441.9,301.7 439.6,302.2 438.9,301.7 439.6,301.3M407.5,302.5 410.7,303.2 411.4,303.6 412.8,305.6 413.8,307.5 413.9,307.6 414.5,309.4 413.9,309.9 410.7,309.8 408.1,309.4 407.5,309.3 404.2,308.9 401.5,307.5 401.0,306.9 397.8,306.7 395.6,305.6 397.8,305.4 401.0,305.4 404.2,304.2 405.4,303.6 407.5,302.5M433.1,305.7 435.9,307.5 436.4,309.2 436.4,309.4 436.4,309.4 433.3,311.3 433.1,311.4 432.6,311.3 429.9,310.8 428.3,309.4 429.9,307.9 430.5,307.5 433.1,305.7M471.7,306.8 471.9,307.5 472.7,309.4 471.7,309.5 470.8,309.4 471.6,307.5 471.7,306.8M349.7,309.2 349.8,309.4 349.7,311.3 349.7,312.1 349.4,311.3 349.3,309.4 349.7,309.2M394.6,309.7 395.8,311.3 396.5,313.3 394.6,313.5 394.5,313.3 394.5,311.3 394.6,309.7M330.4,311.4 333.6,312.0 336.8,313.3 340.0,313.1 343.2,313.0 346.4,313.1 348.1,313.3 346.4,313.8 343.2,314.5 342.7,315.2 342.3,317.1 341.6,319.1 340.0,320.3 336.8,321.0 333.6,319.1 333.6,319.0 330.6,317.1 330.4,317.0 328.6,315.2 327.5,313.3 330.4,311.4M311.1,317.0 311.6,317.1 311.1,317.5 310.9,317.1 311.1,317.0M394.6,320.6 395.2,321.0 394.6,321.1 394.4,321.0 394.6,320.6M426.7,324.9 429.4,326.8 429.9,327.1 432.6,328.7 432.4,330.6 429.9,332.0 426.7,332.0 425.0,330.6 423.9,328.7 424.9,326.8 426.7,324.9M404.2,328.7 407.5,328.5 410.7,327.6 413.9,327.0 416.8,328.7 413.9,329.5 410.7,329.6 407.6,330.6 407.5,331.9 407.1,330.6 404.2,328.8 403.5,328.7 404.2,328.7M291.9,332.4 292.1,332.6 291.9,333.1 290.8,332.6 291.9,332.4M394.6,332.3 395.0,332.6 394.6,333.4 394.2,332.6 394.6,332.3M465.3,332.2 468.5,332.2 471.7,332.1 474.7,332.6 471.7,332.9 468.5,332.9 465.3,332.9 465.1,332.6 465.3,332.2M542.3,332.5 542.4,332.6 542.3,332.6 542.2,332.6 542.3,332.5M503.8,336.3 504.0,336.4 503.8,337.8 500.7,336.4 503.8,336.3M381.8,337.2 381.7,338.4 381.6,340.3 381.8,340.4 382.1,340.3 382.1,338.4 381.8,337.2M410.7,337.8 413.9,336.8 417.1,336.9 419.6,338.4 419.9,340.3 419.6,342.2 417.1,344.0 416.1,344.1 417.1,344.5 420.3,344.8 420.9,346.1 421.7,348.0 423.4,349.9 423.5,350.1 425.2,351.9 423.6,353.8 423.5,353.8 420.3,354.8 418.4,353.8 417.1,353.0 415.6,351.9 415.5,349.9 414.8,348.0 414.3,346.1 413.9,345.6 413.4,344.1 410.7,343.0 409.6,342.2 407.8,340.3 409.6,338.4 410.7,337.8M458.8,343.6 459.0,344.1 459.1,346.1 459.1,348.0 459.7,349.9 460.3,351.9 460.2,353.8 460.2,355.7 459.0,357.7 458.8,357.9 458.6,357.7 457.5,355.7 457.5,353.8 457.5,351.9 458.0,349.9 458.6,348.0 458.6,346.1 458.6,344.1 458.8,343.6M272.6,351.8 272.8,351.9 272.6,352.0 272.4,351.9 272.6,351.8M401.0,351.6 404.1,351.9 404.2,352.1 405.6,353.8 407.5,355.2 407.5,355.7 408.3,357.7 410.1,359.6 408.3,361.5 407.5,363.3 404.2,362.9 402.8,361.5 402.4,359.6 401.4,357.7 401.0,357.4 398.2,355.7 400.1,353.8 400.5,351.9 401.0,351.6M446.0,351.3 446.2,351.9 446.1,353.8 446.1,355.7 446.1,357.7 446.1,359.6 446.2,361.5 446.7,363.4 446.0,364.9 443.1,365.4 442.8,365.5 441.1,367.3 439.6,368.1 439.4,367.3 439.5,365.4 439.5,363.4 439.6,362.2 440.8,361.5 442.8,360.2 443.5,359.6 442.8,358.6 441.4,357.7 439.6,357.1 436.4,355.7 439.6,355.6 442.8,355.4 445.1,353.8 445.3,351.9 446.0,351.3M317.5,355.4 319.1,355.7 317.5,356.0 317.0,355.7 317.5,355.4M346.4,354.4 349.7,353.9 352.9,354.6 355.6,355.7 355.4,357.7 352.9,359.4 349.7,359.6 349.4,359.6 349.7,360.6 352.9,359.7 356.1,359.7 359.3,360.8 360.6,361.5 362.4,363.4 362.2,365.4 359.3,367.0 356.1,367.1 352.9,367.2 352.1,367.3 349.7,369.2 349.5,367.3 349.2,365.4 346.4,364.2 343.2,364.1 342.1,363.5 341.5,361.5 340.3,359.6 343.2,357.9 343.8,357.7 345.1,355.7 346.4,354.4M478.1,355.7 478.2,355.7 478.1,355.8 477.9,355.7 478.1,355.7M471.7,359.6 471.7,359.6 471.7,359.6 471.7,359.6 471.7,359.6M503.8,359.5 504.0,359.6 503.8,359.7 503.6,359.6 503.8,359.5M449.2,365.6 452.4,365.5 453.9,367.3 452.4,368.2 449.2,367.8 447.2,367.3 449.2,365.6M343.2,371.0 346.4,371.1 346.9,371.2 346.4,371.3 343.2,371.6 342.3,371.2 343.2,371.0M368.9,370.2 367.6,371.2 368.9,371.4 369.4,371.2 368.9,370.2M407.5,371.0 408.8,371.2 407.5,371.2 406.6,371.2 407.5,371.0M429.9,369.9 433.1,369.3 436.4,369.3 439.1,371.2 439.6,371.5 442.8,372.5 443.9,373.1 445.7,375.0 443.9,377.0 442.8,377.7 439.6,378.9 436.4,378.6 433.7,377.0 433.3,375.0 433.1,374.9 429.9,375.0 428.8,375.0 426.7,375.7 426.6,375.0 426.7,373.4 426.8,373.1 426.8,371.2 429.9,369.9M401.0,374.5 401.1,375.0 401.0,375.9 399.4,375.0 401.0,374.5M458.8,374.9 459.1,375.0 458.8,376.4 456.4,375.0 458.8,374.9M409.0,189.8 409.1,191.7 409.1,193.6 407.5,194.6 405.8,193.6 405.8,191.7 405.9,189.8M439.6,227.3 441.1,228.3 441.1,230.3 441.3,232.2 439.6,232.4 439.1,232.2 438.9,230.3 438.7,228.3 439.6,227.3M436.4,239.4 439.6,238.4 442.1,239.9 439.6,241.4 436.4,240.5 435.3,239.9 436.4,239.4M452.4,243.3 453.2,243.8 452.4,244.2 452.1,243.8 452.4,243.3M426.7,255.1 428.3,255.4 429.1,257.3 429.6,259.2 428.6,261.2 428.1,263.1 426.7,263.9 423.5,264.9 423.2,265.0 420.3,265.5 419.5,265.0 417.7,263.1 418.5,261.2 419.9,259.2 420.3,258.6 423.5,257.6 423.9,257.3 425.7,255.4 426.7,255.1M407.5,270.3 409.2,270.8 410.7,271.4 413.9,271.5 417.1,271.2 417.7,270.8 420.3,270.1 421.4,270.8 420.3,272.2 419.5,272.7 419.0,274.7 417.1,276.3 416.2,276.6 413.9,277.0 411.1,276.6 410.7,276.5 408.4,274.7 408.1,272.7 407.5,272.0 406.0,270.8 407.5,270.3M401.0,273.1 404.2,274.6 404.3,274.7 404.2,274.7 401.0,276.3 398.5,274.7 401.0,273.1M426.7,273.9 428.2,274.7 426.7,276.2 424.0,274.7 426.7,273.9M401.0,281.0 403.7,282.4 404.2,282.7 405.5,284.3 406.0,286.2 406.1,288.2 406.3,290.1 406.4,292.0 406.5,294.0 404.2,295.3 403.2,295.9 401.0,297.3 397.8,296.7 395.9,295.9 394.6,294.7 394.1,294.0 391.7,292.0 391.4,291.6 390.6,290.1 391.4,288.5 391.5,288.2 392.1,286.2 393.5,284.3 394.6,283.3 397.8,282.7 399.0,282.4 401.0,281.0M356.1,293.7 356.5,294.0 356.6,295.9 356.8,297.8 356.2,299.8 356.1,300.0 355.9,299.8 355.4,297.8 355.5,295.9 355.7,294.0 356.1,293.7M388.2,297.0 390.8,297.8 390.8,299.8 390.8,301.7 390.5,303.6 390.2,305.6 388.2,306.6 387.7,307.5 386.9,309.4 385.0,310.2 381.8,311.0 378.6,311.3 378.4,311.3 375.3,311.9 374.1,311.3 372.1,310.5 370.1,309.4 370.0,307.5 370.0,305.6 371.0,303.6 372.1,303.0 375.3,302.5 378.6,302.9 381.8,303.2 385.0,303.0 387.3,301.7 387.0,299.8 386.8,297.8 388.2,297.0M407.5,304.8 408.8,305.6 407.5,306.5 405.8,305.6 407.5,304.8M433.1,306.3 435.0,307.5 435.9,309.4 433.1,311.1 429.9,310.1 429.1,309.4 429.9,308.6 431.4,307.5 433.1,306.3M330.4,312.4 333.3,313.3 330.4,315.0 329.1,313.3 330.4,312.4M336.8,315.1 337.0,315.2 339.6,317.1 336.9,319.1 336.8,319.1 336.7,319.1 333.6,317.1 335.6,315.2 336.8,315.1M356.1,315.0 356.2,315.2 357.8,317.1 357.9,319.1 358.3,321.0 359.3,321.9 359.6,322.9 359.9,324.9 360.5,326.8 361.2,328.7 361.3,330.6 361.5,332.6 360.6,334.5 359.3,335.2 356.1,335.7 354.9,336.4 355.0,338.4 355.0,340.3 355.0,342.2 354.9,344.1 352.9,344.9 349.7,345.7 346.7,346.1 346.4,346.1 343.2,347.2 340.0,346.5 339.4,346.1 338.1,344.1 339.5,342.2 340.0,341.8 343.2,340.9 344.2,340.3 344.2,338.4 344.2,336.4 344.3,334.5 344.5,332.6 345.6,330.6 346.4,330.1 349.7,329.2 350.5,328.7 351.6,326.8 352.4,324.9 352.6,322.9 352.9,321.7 353.6,321.0 353.3,319.1 353.2,317.1 355.5,315.2 356.1,315.0M368.9,318.1 372.1,318.5 373.9,319.1 375.3,320.0 375.7,321.0 377.1,322.9 378.6,323.2 381.8,323.4 385.0,324.4 385.7,324.9 385.7,326.8 385.6,328.7 385.0,329.5 382.9,330.6 381.8,331.0 378.6,330.7 377.9,330.6 375.3,329.5 375.1,328.7 374.8,326.8 373.0,324.9 372.1,324.5 368.9,324.2 365.9,322.9 365.7,322.8 363.5,321.0 365.7,319.2 366.0,319.1 368.9,318.1M410.7,328.7 413.9,327.9 415.3,328.7 413.9,329.1 410.7,328.7 410.6,328.7 410.7,328.7M426.7,327.1 429.3,328.7 426.7,330.1 425.5,328.7 426.7,327.1M365.7,337.4 368.9,337.0 372.1,337.1 375.3,337.2 378.6,337.8 379.5,338.4 380.6,340.3 381.8,341.0 385.0,340.3 385.2,340.3 388.2,338.7 390.8,340.3 391.4,340.7 392.5,342.2 393.2,344.1 392.5,346.1 391.4,347.5 390.7,348.0 390.0,349.9 389.7,351.9 390.1,353.8 390.9,355.7 391.2,357.7 391.4,358.6 391.6,359.6 391.4,360.2 388.9,361.5 388.2,361.6 388.1,361.5 387.4,359.6 386.9,357.7 385.0,355.8 384.6,355.7 385.0,354.4 385.1,353.8 385.4,351.9 385.5,349.9 385.5,348.0 385.0,347.9 381.8,347.2 378.6,347.8 377.7,348.0 375.3,349.5 372.6,348.0 372.1,347.9 368.9,347.3 365.7,346.6 364.9,346.1 363.6,344.1 363.5,342.2 363.3,340.3 364.1,338.4 365.7,337.4M413.9,337.4 417.1,338.2 417.3,338.4 418.8,340.3 417.6,342.2 417.1,342.6 413.9,343.6 411.1,342.2 410.7,341.9 408.9,340.3 410.7,338.7 411.3,338.4 413.9,337.4M420.3,346.7 420.9,348.0 422.6,349.9 423.5,350.9 424.4,351.9 423.5,352.9 421.9,353.8 420.3,354.3 419.4,353.8 417.1,352.4 416.4,351.9 416.7,349.9 417.1,349.0 418.0,348.0 420.3,346.7M458.8,349.9 458.8,349.9 459.5,351.9 459.4,353.8 459.4,355.7 458.8,356.7 458.3,355.7 458.2,353.8 458.2,351.9 458.8,349.9 458.8,349.9M346.4,355.2 349.7,354.2 352.9,355.1 354.5,355.7 353.3,357.7 352.9,358.0 349.7,358.9 346.4,358.8 345.9,357.7 345.9,355.7 346.4,355.2M343.2,358.9 345.7,359.6 345.6,361.5 345.4,363.4 343.2,363.7 342.9,363.4 342.6,361.5 342.0,359.6 343.2,358.9M407.5,358.4 408.2,359.6 407.5,360.7 406.0,359.6 407.5,358.4M352.9,360.9 356.1,360.3 359.0,361.5 359.3,361.7 361.4,363.4 360.0,365.4 359.3,365.8 356.1,366.5 352.9,366.0 351.6,365.4 350.6,363.4 351.8,361.5 352.9,360.9M394.6,362.3 396.3,363.4 394.6,364.6 392.8,363.4 394.6,362.3M368.9,366.2 372.1,366.7 375.3,366.9 376.5,367.3 378.6,367.7 381.8,368.2 385.0,368.1 388.2,367.9 391.4,368.6 392.4,369.2 393.4,371.2 392.2,373.1 391.4,373.6 388.2,374.4 385.0,373.8 381.8,373.4 378.6,373.8 375.3,374.4 374.3,375.0 373.2,377.0 372.1,377.5 368.9,378.0 365.7,377.4 364.8,377.0 363.3,375.0 362.5,373.2 361.9,373.1 359.9,371.2 362.5,369.6 364.8,371.2 365.7,371.7 368.9,372.0 370.4,371.2 370.0,369.2 368.9,368.1 367.3,367.3 368.9,366.2M452.4,366.5 453.1,367.3 452.4,367.7 450.0,367.3 452.4,366.5M429.9,370.3 433.1,369.6 436.4,370.0 438.1,371.2 439.6,372.1 442.1,373.1 442.8,373.5 444.6,375.0 442.8,376.7 442.3,377.0 439.6,378.2 436.4,377.3 435.9,377.0 434.5,375.0 433.1,374.3 429.9,373.7 428.9,373.1 427.9,371.2 429.9,370.3M356.1,374.0 358.3,375.0 356.1,375.9 354.4,375.0 356.1,374.0M407.6,189.8 407.6,191.7 407.6,193.6 407.5,193.7 407.3,193.6 407.3,191.7 407.3,189.8M439.6,228.3 439.6,228.4 439.6,228.7 439.5,228.3 439.6,228.3M436.4,239.9 439.6,238.7 441.6,239.9 439.6,241.1 436.4,240.0 436.2,239.9 436.4,239.9M426.7,258.5 427.0,259.2 426.7,261.2 426.7,261.4 426.6,263.1 423.5,264.3 420.3,265.0 420.3,265.0 420.3,265.0 418.2,263.1 419.2,261.2 420.3,259.7 423.5,259.6 425.6,259.2 426.7,258.5M413.9,272.2 416.5,272.7 417.1,273.1 417.9,274.7 417.1,275.4 413.9,276.5 410.7,275.6 409.6,274.7 410.7,273.1 411.2,272.7 413.9,272.2M394.6,283.9 397.8,283.4 401.0,282.7 403.8,284.3 404.2,284.9 404.9,286.2 405.1,288.2 405.2,290.1 405.3,292.0 405.5,294.0 404.2,294.7 402.2,295.9 401.0,296.6 398.3,295.9 397.8,295.7 395.5,294.0 394.6,293.4 392.8,292.0 391.4,290.1 392.2,288.2 392.7,286.2 394.2,284.3 394.6,283.9M375.3,303.1 378.6,303.4 381.3,303.6 381.8,303.7 385.0,303.9 387.5,305.6 386.6,307.5 385.9,309.4 385.0,309.8 381.8,310.7 378.6,310.9 375.6,311.3 375.3,311.4 375.2,311.3 372.1,309.9 371.2,309.4 371.1,307.5 371.0,305.5 372.1,304.2 373.3,303.6 375.3,303.1M433.1,306.9 434.1,307.5 435.3,309.4 433.1,310.8 429.9,309.5 429.8,309.4 429.9,309.3 432.2,307.5 433.1,306.9M336.8,317.0 337.0,317.1 336.8,317.2 336.7,317.1 336.8,317.0M356.1,316.9 356.3,317.1 356.1,317.8 355.8,317.1 356.1,316.9M368.9,318.7 370.8,319.1 372.1,319.5 374.5,321.0 373.0,322.9 372.1,323.2 368.9,323.5 367.6,322.9 365.7,321.9 364.7,321.0 365.7,320.2 367.8,319.1 368.9,318.7M356.1,321.5 358.2,322.9 359.0,324.9 359.3,325.8 359.6,326.8 360.2,328.7 360.3,330.6 360.4,332.6 359.3,333.9 358.2,334.5 356.1,335.1 353.9,336.4 353.9,338.4 353.9,340.3 353.9,342.2 353.8,344.1 352.9,344.5 349.7,345.3 346.4,345.7 344.6,346.1 343.2,346.5 341.8,346.1 340.0,345.1 339.3,344.1 340.0,343.2 341.6,342.2 343.2,341.6 345.3,340.3 345.2,338.4 345.2,336.4 345.4,334.5 345.6,332.6 346.4,331.4 347.6,330.6 349.7,329.9 351.6,328.7 352.5,326.8 352.9,325.8 353.2,324.9 353.9,322.9 356.1,321.5M378.6,323.9 381.8,323.7 384.9,324.9 384.9,326.8 384.8,328.7 381.8,330.5 378.6,330.0 376.3,328.7 376.2,326.8 376.0,324.9 378.6,323.9M368.9,337.6 372.1,337.7 375.3,337.8 377.4,338.4 378.6,339.0 379.6,340.3 381.8,341.7 385.0,341.1 388.2,340.3 391.1,342.2 391.4,342.6 392.2,344.1 391.4,345.6 391.1,346.1 388.2,348.0 385.0,347.1 381.8,346.5 378.6,347.0 375.3,347.8 372.1,347.1 368.9,346.7 367.0,346.1 365.7,345.3 364.7,344.1 364.5,342.2 364.4,340.3 365.7,338.7 366.4,338.4 368.9,337.6M413.9,338.0 415.1,338.4 417.1,339.5 417.7,340.3 417.1,341.1 415.6,342.2 413.9,342.8 412.6,342.2 410.7,340.9 410.0,340.3 410.7,339.7 413.0,338.4 413.9,338.0M388.2,348.8 388.2,349.9 388.2,351.9 388.2,353.8 388.2,355.7 388.4,357.7 388.6,359.6 388.2,359.8 388.1,359.6 388.1,357.7 388.2,355.7 388.2,353.8 388.2,351.9 388.2,349.9 388.2,348.8M420.3,348.3 421.8,349.9 423.5,351.8 423.6,351.9 423.5,351.9 420.3,353.8 417.2,351.9 418.0,349.9 420.3,348.3M349.7,354.6 352.9,355.5 353.4,355.7 352.9,356.5 351.3,357.7 349.7,358.2 348.0,357.7 346.7,355.7 349.7,354.6M356.1,360.9 357.5,361.5 359.3,362.6 360.3,363.4 359.3,364.6 357.9,365.4 356.1,365.9 354.1,365.4 352.9,364.8 351.7,363.4 352.9,362.1 354.0,361.5 356.1,360.9M375.3,367.9 378.6,368.5 381.8,368.9 385.0,368.7 388.2,368.6 390.3,369.2 391.4,370.0 392.3,371.2 391.4,372.3 390.2,373.1 388.2,373.8 385.0,373.3 383.5,373.1 381.8,372.9 379.8,373.1 378.6,373.2 375.3,373.7 373.3,375.0 372.1,376.3 370.7,377.0 368.9,377.4 367.2,377.0 365.7,376.3 364.4,375.0 365.7,373.2 366.0,373.1 368.9,372.6 371.5,371.2 372.1,369.3 372.1,369.2 375.3,367.9M429.9,370.7 433.1,369.9 436.4,370.6 437.1,371.2 439.6,372.8 440.4,373.1 442.8,374.4 443.5,375.0 442.8,375.7 440.8,377.0 439.6,377.5 438.0,377.0 436.4,375.9 435.6,375.0 433.1,373.7 431.0,373.1 429.9,372.5 428.9,371.2 429.9,370.7M439.6,239.1 441.0,239.9 439.6,240.8 437.1,239.9 439.6,239.1M420.3,260.5 423.1,261.2 423.5,261.4 425.0,263.1 423.5,263.7 420.3,264.5 418.7,263.1 419.8,261.2 420.3,260.5M413.9,272.8 416.8,274.7 413.9,276.0 410.7,274.7 413.9,272.8M397.8,284.2 401.0,283.7 402.1,284.3 403.9,286.2 404.0,288.2 404.2,290.1 404.2,291.3 404.3,292.0 404.4,294.0 404.2,294.1 401.2,295.9 401.0,296.0 400.6,295.9 397.8,294.7 396.8,294.0 394.6,292.5 393.9,292.0 392.3,290.1 392.8,288.2 393.2,286.2 394.6,284.6 397.0,284.3 397.8,284.2M372.1,305.4 375.3,303.7 378.6,303.9 381.8,304.1 385.0,304.8 386.1,305.6 385.4,307.5 385.0,308.9 384.8,309.4 381.8,310.3 378.6,310.6 375.3,310.9 372.2,309.4 372.1,307.7 372.1,307.5 372.0,305.6 372.1,305.4M433.1,307.5 433.2,307.5 434.8,309.4 433.1,310.4 430.6,309.4 433.1,307.5 433.1,307.5M368.9,319.3 372.1,320.4 373.0,321.0 372.1,321.8 368.9,322.8 365.8,321.0 368.9,319.3M356.1,322.4 356.8,322.9 358.2,324.9 358.7,326.8 359.2,328.7 359.2,330.6 359.3,332.4 359.3,332.6 359.3,332.6 356.1,334.4 355.8,334.5 352.9,336.4 352.9,338.4 352.9,340.3 352.9,340.5 352.8,342.2 352.7,344.1 349.7,345.0 346.4,345.3 343.2,345.8 340.4,344.1 343.2,342.4 343.7,342.2 346.3,340.3 346.3,338.4 346.3,336.4 346.4,334.6 346.5,334.5 346.6,332.6 349.5,330.6 349.7,330.6 352.6,328.7 352.9,328.2 353.4,326.8 354.0,324.9 355.3,322.9 356.1,322.4M378.6,324.5 381.8,324.0 384.0,324.9 384.0,326.8 384.0,328.7 381.8,330.0 378.6,329.2 377.7,328.7 377.7,326.8 377.7,324.9 378.6,324.5M368.9,338.3 372.1,338.3 374.1,338.4 375.3,338.4 378.6,340.3 378.6,340.3 381.5,342.2 381.8,342.3 382.5,342.2 385.0,341.9 388.2,341.3 389.6,342.2 391.2,344.1 389.6,346.1 388.2,347.0 385.0,346.4 383.0,346.1 381.8,345.9 380.0,346.1 378.6,346.2 375.3,346.8 372.1,346.3 369.4,346.1 368.9,346.0 365.8,344.1 365.7,343.5 365.6,342.2 365.5,340.3 365.7,340.0 368.6,338.4 368.9,338.3M413.9,338.7 416.6,340.3 413.9,342.1 411.1,340.3 413.9,338.7M420.3,349.2 421.0,349.9 422.7,351.9 420.3,353.3 418.0,351.9 419.3,349.9 420.3,349.2M349.7,354.9 352.4,355.7 349.7,357.5 347.5,355.7 349.7,354.9M352.9,363.4 356.1,361.6 359.2,363.4 356.1,365.3 352.9,363.5 352.8,363.4 352.9,363.4M375.3,368.8 378.6,369.2 379.0,369.2 381.8,369.5 385.0,369.4 388.2,369.3 391.3,371.2 388.2,373.1 385.0,372.7 381.8,372.4 378.6,372.7 375.3,373.0 372.5,371.2 374.3,369.2 375.3,368.8M429.9,371.2 433.1,370.2 436.2,371.2 433.2,373.1 433.1,373.1 433.1,373.1 429.9,371.2 429.9,371.2 429.9,371.2M365.7,374.8 368.9,373.2 372.1,374.6 372.2,375.0 372.1,375.1 368.9,376.8 365.7,375.2 365.5,375.0 365.7,374.8M439.6,373.4 442.4,375.0 439.6,376.8 436.7,375.0 439.6,373.4M439.6,239.4 440.5,239.9 439.6,240.5 438.0,239.9 439.6,239.4M420.3,261.4 423.5,263.1 420.3,264.1 419.2,263.1 420.3,261.4M413.9,273.5 415.8,274.7 413.9,275.5 411.9,274.7 413.9,273.5M394.6,285.2 397.8,285.0 401.0,284.6 402.8,286.2 403.0,288.2 403.1,290.1 403.2,292.0 403.4,294.0 401.0,295.4 398.1,294.0 397.8,293.6 395.6,292.0 394.6,291.7 393.1,290.1 393.5,288.2 393.8,286.2 394.6,285.2M375.3,304.3 378.6,304.4 381.8,304.5 384.8,305.6 384.2,307.5 383.8,309.4 381.8,310.0 378.6,310.2 375.3,310.4 373.3,309.4 373.2,307.5 373.1,305.6 375.3,304.3M433.1,308.1 434.3,309.4 433.1,310.1 431.4,309.4 433.1,308.1M368.9,319.9 371.5,321.0 368.9,322.1 367.0,321.0 368.9,319.9M356.1,323.4 357.4,324.9 357.8,326.8 358.2,328.7 358.2,330.6 358.2,332.6 356.1,333.8 353.8,334.5 352.9,335.1 351.9,336.4 351.8,338.4 351.8,340.3 351.7,342.2 351.5,344.1 349.7,344.7 346.4,344.8 343.2,345.1 341.6,344.1 343.2,343.1 345.8,342.2 346.4,341.7 347.4,340.3 347.4,338.4 347.3,336.4 347.5,334.5 347.7,332.6 349.7,331.3 351.7,330.6 352.9,329.9 353.7,328.7 354.3,326.8 354.8,324.9 356.1,323.4M381.8,324.4 383.1,324.9 383.2,326.8 383.3,328.7 381.8,329.6 379.1,328.7 379.2,326.8 379.3,324.9 381.8,324.4M368.9,338.9 372.1,339.0 375.3,339.0 377.5,340.3 378.6,341.7 379.3,342.2 381.8,342.9 385.0,342.7 388.2,342.2 390.2,344.1 388.2,346.1 388.2,346.1 388.2,346.1 385.0,345.6 381.8,345.3 378.6,345.5 375.3,345.7 372.1,345.5 368.9,345.4 366.8,344.1 366.7,342.2 366.6,340.3 368.9,338.9M413.9,339.3 415.6,340.3 413.9,341.4 412.2,340.3 413.9,339.3M420.3,350.1 421.9,351.9 420.3,352.8 418.8,351.9 420.3,350.1M349.7,355.2 351.3,355.7 349.7,356.8 348.3,355.7 349.7,355.2M356.1,362.2 358.2,363.4 356.1,364.7 353.9,363.4 356.1,362.2M375.3,369.7 378.6,369.9 381.8,370.1 385.0,370.0 388.2,369.9 390.2,371.2 388.2,372.4 385.0,372.2 381.8,372.0 378.6,372.1 375.3,372.3 373.6,371.2 375.3,369.7M433.1,370.5 435.2,371.2 433.1,372.5 430.9,371.2 433.1,370.5M368.9,373.8 371.1,375.0 368.9,376.2 366.6,375.0 368.9,373.8M439.6,374.1 441.3,375.0 439.6,376.1 437.9,375.0 439.6,374.1M439.6,239.7 439.9,239.9 439.6,240.1 439.0,239.9 439.6,239.7M420.3,262.2 421.9,263.1 420.3,263.6 419.8,263.1 420.3,262.2M413.9,274.2 414.7,274.7 413.9,275.0 413.0,274.7 413.9,274.2M394.6,285.9 397.8,285.8 401.0,285.6 401.8,286.2 401.9,288.2 402.0,290.1 402.2,292.0 402.3,294.0 401.0,294.8 399.4,294.0 398.2,292.0 397.8,291.8 394.6,290.9 393.9,290.1 394.1,288.2 394.3,286.2 394.6,285.9M375.3,304.8 378.6,304.9 381.8,305.0 383.5,305.6 383.1,307.5 382.8,309.4 381.8,309.7 378.6,309.8 375.3,309.9 374.3,309.4 374.2,307.5 374.1,305.6 375.3,304.8M433.1,308.7 433.8,309.4 433.1,309.8 432.2,309.4 433.1,308.7M368.9,320.6 369.9,321.0 368.9,321.4 368.2,321.0 368.9,320.6M356.1,324.3 356.6,324.9 356.9,326.8 357.2,328.7 357.1,330.6 357.1,332.6 356.1,333.1 352.9,333.7 351.7,334.5 350.9,336.4 350.8,338.4 350.8,340.3 350.6,342.2 350.4,344.2 349.7,344.4 346.4,344.4 343.2,344.5 342.7,344.1 343.2,343.8 346.4,343.3 347.9,342.2 348.5,340.3 348.5,338.4 348.4,336.4 348.6,334.5 348.8,332.6 349.7,332.0 352.9,331.3 353.9,330.6 354.8,328.7 355.3,326.8 355.6,324.9 356.1,324.3M381.8,324.7 382.2,324.9 382.3,326.8 382.5,328.7 381.8,329.1 380.5,328.7 380.7,326.8 380.9,324.9 381.8,324.7M368.9,339.6 372.1,339.6 375.3,339.6 376.5,340.3 377.1,342.2 378.6,343.2 381.8,343.6 385.0,343.4 388.2,343.2 389.2,344.1 388.2,345.1 385.0,344.9 381.8,344.7 378.6,344.7 375.3,344.7 372.1,344.7 368.9,344.8 367.9,344.1 367.8,342.2 367.7,340.3 368.9,339.6M413.9,339.9 414.5,340.3 413.9,340.7 413.3,340.3 413.9,339.9M420.3,351.0 421.1,351.9 420.3,352.3 419.6,351.9 420.3,351.0M349.7,355.5 350.3,355.7 349.7,356.1 349.2,355.7 349.7,355.5M356.1,362.8 357.1,363.4 356.1,364.0 355.0,363.4 356.1,362.8M375.3,370.5 378.6,370.7 381.8,370.8 385.0,370.7 388.2,370.6 389.1,371.2 388.2,371.8 385.0,371.6 381.8,371.5 378.6,371.6 375.3,371.7 374.6,371.2 375.3,370.5M433.1,370.8 434.3,371.2 433.1,371.9 431.9,371.2 433.1,370.8M368.9,374.4 370.0,375.0 368.9,375.6 367.8,375.0 368.9,374.4M439.6,374.7 440.1,375.0 439.6,375.4 439.0,375.0 439.6,374.7M420.3,263.1 420.3,263.1 420.3,263.1 420.3,263.1 420.3,263.1M401.0,291.0 401.1,292.0 401.3,294.0 401.0,294.1 400.7,294.0 400.8,292.0 401.0,291.0M375.3,305.4 378.6,305.4 381.8,305.4 382.1,305.6 381.9,307.5 381.8,309.4 381.8,309.4 380.8,309.4 378.6,309.1 375.3,308.6 375.3,307.5 375.1,305.6 375.3,305.4M433.1,309.3 433.3,309.4 433.1,309.5 432.9,309.4 433.1,309.3M356.1,327.7 356.2,328.7 356.1,330.6 356.1,330.9 356.0,330.6 355.9,328.7 356.1,327.7M349.7,334.3 349.7,334.5 349.8,336.4 349.8,338.4 349.7,340.3 349.7,340.8 349.6,340.3 349.5,338.4 349.5,336.4 349.6,334.5 349.7,334.3M368.9,340.2 372.1,340.2 375.3,340.2 375.5,340.3 375.3,341.0 372.1,341.4 369.6,342.2 368.9,342.8 368.9,342.2 368.8,340.3 368.9,340.2M388.2,344.1 388.2,344.1 388.2,344.2 387.9,344.1 388.2,344.1M433.1,371.1 433.3,371.2 433.1,371.3 432.9,371.2 433.1,371.1M368.9,375.0 369.0,375.0 368.9,375.1 368.9,375.0 368.9,375.0" fill="none" stroke="#000" stroke-width="1.1"/>
</g>
<g fill="#000" shape-rendering="crispEdges"><rect x="192" y="189" width="405" height="1"/><rect x="192" y="382" width="405" height="1"/><rect x="201" y="189" width="1" height="194"/><rect x="201" y="180" width="1" height="10"/><rect x="201" y="382" width="1" height="10"/><rect x="201" y="379" width="1" height="4"/><rect x="208" y="379" width="1" height="4"/><rect x="214" y="185" width="1" height="5"/><rect x="214" y="382" width="1" height="6"/><rect x="214" y="379" width="1" height="4"/><rect x="221" y="379" width="1" height="4"/><rect x="227" y="185" width="1" height="5"/><rect x="227" y="382" width="1" height="6"/><rect x="227" y="379" width="1" height="4"/><rect x="234" y="379" width="1" height="4"/><rect x="240" y="185" width="1" height="5"/><rect x="240" y="382" width="1" height="6"/><rect x="240" y="379" width="1" height="4"/><rect x="246" y="379" width="1" height="4"/><rect x="253" y="185" width="1" height="5"/><rect x="253" y="382" width="1" height="6"/><rect x="253" y="379" width="1" height="4"/><rect x="259" y="379" width="1" height="4"/><rect x="266" y="180" width="1" height="10"/><rect x="266" y="382" width="1" height="10"/><rect x="266" y="379" width="1" height="4"/><rect x="272" y="379" width="1" height="4"/><rect x="279" y="185" width="1" height="5"/><rect x="279" y="382" width="1" height="6"/><rect x="279" y="379" width="1" height="4"/><rect x="285" y="379" width="1" height="4"/><rect x="291" y="185" width="1" height="5"/><rect x="291" y="382" width="1" height="6"/><rect x="291" y="379" width="1" height="4"/><rect x="298" y="379" width="1" height="4"/><rect x="304" y="185" width="1" height="5"/><rect x="304" y="382" width="1" height="6"/><rect x="304" y="379" width="1" height="4"/><rect x="311" y="379" width="1" height="4"/><rect x="317" y="185" width="1" height="5"/><rect x="317" y="382" width="1" height="6"/><rect x="317" y="379" width="1" height="4"/><rect x="323" y="379" width="1" height="4"/><rect x="330" y="180" width="1" height="10"/><rect x="330" y="382" width="1" height="10"/><rect x="330" y="379" width="1" height="4"/><rect x="336" y="379" width="1" height="4"/><rect x="343" y="185" width="1" height="5"/><rect x="343" y="382" width="1" height="6"/><rect x="343" y="379" width="1" height="4"/><rect x="349" y="379" width="1" height="4"/><rect x="356" y="185" width="1" height="5"/><rect x="356" y="382" width="1" height="6"/><rect x="356" y="379" width="1" height="4"/><rect x="362" y="379" width="1" height="4"/><rect x="368" y="185" width="1" height="5"/><rect x="368" y="382" width="1" height="6"/><rect x="368" y="379" width="1" height="4"/><rect x="375" y="379" width="1" height="4"/><rect x="381" y="185" width="1" height="5"/><rect x="381" y="382" width="1" height="6"/><rect x="381" y="379" width="1" height="4"/><rect x="388" y="379" width="1" height="4"/><rect x="394" y="180" width="1" height="10"/><rect x="394" y="382" width="1" height="10"/><rect x="394" y="379" width="1" height="4"/><rect x="401" y="379" width="1" height="4"/><rect x="407" y="185" width="1" height="5"/><rect x="407" y="382" width="1" height="6"/><rect x="407" y="379" width="1" height="4"/><rect x="413" y="379" width="1" height="4"/><rect x="420" y="185" width="1" height="5"/><rect x="420" y="382" width="1" height="6"/><rect x="420" y="379" width="1" height="4"/><rect x="426" y="379" width="1" height="4"/><rect x="433" y="185" width="1" height="5"/><rect x="433" y="382" width="1" height="6"/><rect x="433" y="379" width="1" height="4"/><rect x="439" y="379" width="1" height="4"/><rect x="445" y="185" width="1" height="5"/><rect x="445" y="382" width="1" height="6"/><rect x="445" y="379" width="1" height="4"/><rect x="452" y="379" width="1" height="4"/><rect x="458" y="180" width="1" height="10"/><rect x="458" y="382" width="1" height="10"/><rect x="458" y="379" width="1" height="4"/><rect x="465" y="379" width="1" height="4"/><rect x="471" y="185" width="1" height="5"/><rect x="471" y="382" width="1" height="6"/><rect x="471" y="379" width="1" height="4"/><rect x="478" y="379" width="1" height="4"/><rect x="484" y="185" width="1" height="5"/><rect x="484" y="382" width="1" height="6"/><rect x="484" y="379" width="1" height="4"/><rect x="490" y="379" width="1" height="4"/><rect x="497" y="185" width="1" height="5"/><rect x="497" y="382" width="1" height="6"/><rect x="497" y="379" width="1" height="4"/><rect x="503" y="379" width="1" height="4"/><rect x="510" y="185" width="1" height="5"/><rect x="510" y="382" width="1" height="6"/><rect x="510" y="379" width="1" height="4"/><rect x="516" y="379" width="1" height="4"/><rect x="523" y="180" width="1" height="10"/><rect x="523" y="382" width="1" height="10"/><rect x="523" y="379" width="1" height="4"/><rect x="529" y="379" width="1" height="4"/><rect x="535" y="185" width="1" height="5"/><rect x="535" y="382" width="1" height="6"/><rect x="535" y="379" width="1" height="4"/><rect x="542" y="379" width="1" height="4"/><rect x="548" y="185" width="1" height="5"/><rect x="548" y="382" width="1" height="6"/><rect x="548" y="379" width="1" height="4"/><rect x="555" y="379" width="1" height="4"/><rect x="561" y="185" width="1" height="5"/><rect x="561" y="382" width="1" height="6"/><rect x="561" y="379" width="1" height="4"/><rect x="568" y="379" width="1" height="4"/><rect x="574" y="185" width="1" height="5"/><rect x="574" y="382" width="1" height="6"/><rect x="574" y="379" width="1" height="4"/><rect x="580" y="379" width="1" height="4"/><rect x="587" y="180" width="1" height="10"/><rect x="587" y="382" width="1" height="10"/><rect x="587" y="379" width="1" height="4"/><rect x="192" y="382" width="10" height="1"/><rect x="588" y="382" width="9" height="1"/><rect x="197" y="363" width="5" height="1"/><rect x="588" y="363" width="4" height="1"/><rect x="192" y="343" width="10" height="1"/><rect x="588" y="343" width="9" height="1"/><rect x="197" y="324" width="5" height="1"/><rect x="588" y="324" width="4" height="1"/><rect x="192" y="305" width="10" height="1"/><rect x="588" y="305" width="9" height="1"/><rect x="197" y="286" width="5" height="1"/><rect x="588" y="286" width="4" height="1"/><rect x="192" y="266" width="10" height="1"/><rect x="588" y="266" width="9" height="1"/><rect x="197" y="247" width="5" height="1"/><rect x="588" y="247" width="4" height="1"/><rect x="192" y="228" width="10" height="1"/><rect x="588" y="228" width="9" height="1"/><rect x="197" y="209" width="5" height="1"/><rect x="588" y="209" width="4" height="1"/><rect x="192" y="189" width="10" height="1"/><rect x="588" y="189" width="9" height="1"/></g>
<g fill="#000"><text x="208.5 221.3 234.2 247.1 259.9 272.8 285.6 298.4 311.3 324.1 349.9 362.7 375.5 401.2 414.1 426.9 439.8 452.6 465.5 478.3 491.2 504.1 516.9 529.8 542.6 555.5 568.3 581.1" y="137.8" font-size="15.5" font-family="DejaVu Sans, sans-serif" font-weight="200" text-anchor="middle" stroke="#000" stroke-width="0.45">v−velocitys−tpw.spadj1000con</text><text x="208.5 221.3 234.2 247.1 259.9" y="159.6" font-size="16" font-family="DejaVu Sans, sans-serif" font-weight="200" text-anchor="middle" stroke="#000" stroke-width="0.45">(((()</text><text x="271.5" y="153.6" font-size="8.8" font-family="DejaVu Sans, sans-serif" font-weight="200" text-anchor="middle" stroke="#000" stroke-width="0.45">2</text><text x="362.7 375.6 388.4 401.2 414.1 426.9 439.8 452.6 465.5 491.2 504.0 516.9 529.8 542.6 555.5 568.3 581.1" y="159.6" font-size="16" font-family="DejaVu Sans, sans-serif" font-weight="200" text-anchor="middle" stroke="#000" stroke-width="0.45">1100.0DAY05/10/29</text><text x="204.5 217.3 223.8 230.2 236.6 249.4 255.9 262.3 268.7 281.5 288.0 294.4 300.8 307.2 313.6 326.5 332.9 339.3 345.7 352.2 358.6 365.0 377.8 384.3 390.7 397.1 403.5 409.9" y="175.5" font-size="8.4" font-family="Liberation Sans, sans-serif" font-weight="400" text-anchor="middle" stroke="#000" stroke-width="0.3">VZS12YS32STPWSPXR35–95YR1–50</text><text x="455.5 461.9 468.3 474.8 481.2 487.6 494.0 500.4" y="175.5" font-size="8.4" font-family="Liberation Sans, sans-serif" font-weight="400" text-anchor="middle" stroke="#000" stroke-width="0.3">#1–79203</text><text x="161.9 171.7 181.4" y="386.55" font-size="13" font-family="DejaVu Sans, sans-serif" font-weight="200" text-anchor="middle" stroke="#000" stroke-width="0.45">0.0</text><text x="161.9 171.7 181.4" y="347.55" font-size="13" font-family="DejaVu Sans, sans-serif" font-weight="200" text-anchor="middle" stroke="#000" stroke-width="0.45">0.1</text><text x="161.9 171.7 181.4" y="309.55" font-size="13" font-family="DejaVu Sans, sans-serif" font-weight="200" text-anchor="middle" stroke="#000" stroke-width="0.45">0.2</text><text x="161.9 171.7 181.4" y="270.55" font-size="13" font-family="DejaVu Sans, sans-serif" font-weight="200" text-anchor="middle" stroke="#000" stroke-width="0.45">0.3</text><text x="161.9 171.7 181.4" y="232.55" font-size="13" font-family="DejaVu Sans, sans-serif" font-weight="200" text-anchor="middle" stroke="#000" stroke-width="0.45">0.4</text><text x="161.9 171.7 181.4" y="193.55" font-size="13" font-family="DejaVu Sans, sans-serif" font-weight="200" text-anchor="middle" stroke="#000" stroke-width="0.45">0.5</text><text x="192.2 202.0 211.8" y="406.9" font-size="12.2" font-family="DejaVu Sans, sans-serif" font-weight="200" text-anchor="middle" stroke="#000" stroke-width="0.45">−30</text><text x="256.4 266.2 276.0" y="406.9" font-size="12.2" font-family="DejaVu Sans, sans-serif" font-weight="200" text-anchor="middle" stroke="#000" stroke-width="0.45">−20</text><text x="320.6 330.4 340.2" y="406.9" font-size="12.2" font-family="DejaVu Sans, sans-serif" font-weight="200" text-anchor="middle" stroke="#000" stroke-width="0.45">−10</text><text x="394.6" y="406.9" font-size="12.2" font-family="DejaVu Sans, sans-serif" font-weight="200" text-anchor="middle" stroke="#000" stroke-width="0.45">0</text><text x="453.9 463.7" y="406.9" font-size="12.2" font-family="DejaVu Sans, sans-serif" font-weight="200" text-anchor="middle" stroke="#000" stroke-width="0.45">10</text><text x="518.1 527.9" y="406.9" font-size="12.2" font-family="DejaVu Sans, sans-serif" font-weight="200" text-anchor="middle" stroke="#000" stroke-width="0.45">20</text><text x="582.4 592.2" y="406.9" font-size="12.2" font-family="DejaVu Sans, sans-serif" font-weight="200" text-anchor="middle" stroke="#000" stroke-width="0.45">30</text><text x="346.4 355.0 363.5 375.0 394.1 402.5 410.5 420.6 431.8 443.3" y="423.9" font-size="13" font-family="DejaVu Sans, sans-serif" font-weight="200" text-anchor="middle" stroke="#000" stroke-width="0.45">wavenumber</text><g transform="translate(149.6,0) rotate(-90)"><text x="-324.7 -315.4 -306.5 -296.5 -287.2 -277.5 -267.8 -258.1 -248.9" y="0" font-size="13" font-family="DejaVu Sans, sans-serif" font-weight="200" text-anchor="middle" stroke="#000" stroke-width="0.45">frequency</text></g><text x="324.7 329.9 335.0 340.2 345.3 350.5 355.7 366.0 371.1 376.3 381.5 386.6 391.8 396.9 402.1 412.4 422.7 427.9 433.1 438.2 443.4 448.5 453.7 458.9 464.0" y="441.8" font-size="7.2" font-family="Liberation Sans, sans-serif" font-weight="400" text-anchor="middle" stroke="#000" stroke-width="0.3">CONTOURINTERVAL=2.000E–02</text><text x="603.3 609.7 616.1 622.6 629.0 635.4 641.8 648.2 654.7 661.1 667.5 673.9 680.3" y="192.5" font-size="8.4" font-family="Liberation Sans, sans-serif" font-weight="400" text-anchor="middle" stroke="#000" stroke-width="0.3">CSIG16.P=0.23</text><text x="603.3 609.7 616.1 622.6 629.0 635.4 641.8 648.2 654.7 661.1 667.5" y="205.6" font-size="8.4" font-family="Liberation Sans, sans-serif" font-weight="400" text-anchor="middle" stroke="#000" stroke-width="0.3">GGLA64=1.40</text><text x="603.3 609.7 616.1 629.0 635.4 641.8 648.2 654.7 667.5 673.9 680.3 686.8 693.2 699.6" y="219.9" font-size="8.4" font-family="Liberation Sans, sans-serif" font-weight="400" text-anchor="middle" stroke="#000" stroke-width="0.3">s–tpowerspectr</text><text x="603.3 609.7 616.1 622.6 629.0 635.4 641.8 648.2 654.7 661.1 667.5 673.9 680.3 686.8 693.2 699.6" y="232.7" font-size="8.4" font-family="Liberation Sans, sans-serif" font-weight="400" text-anchor="middle" stroke="#000" stroke-width="0.3">@WVNWE64=–30.0–3</text><text x="603.3 609.7 616.1 622.6 629.0 635.4 641.8 648.2 654.7 661.1 667.5 673.9 680.3 686.8 693.2 699.6" y="246.1" font-size="8.4" font-family="Liberation Sans, sans-serif" font-weight="400" text-anchor="middle" stroke="#000" stroke-width="0.3">@FREQ200–100=0.0</text><text x="603.3 609.7 616.1 622.6 629.0 635.4 641.8 648.2 654.7 661.1 667.5 673.9 680.3 686.8" y="299.9" font-size="8.4" font-family="Liberation Sans, sans-serif" font-weight="400" text-anchor="middle" stroke="#000" stroke-width="0.3">20051029000000</text><text x="603.3 609.7 616.1 622.6 629.0 635.4 641.8 648.2" y="313.1" font-size="8.4" font-family="Liberation Sans, sans-serif" font-weight="400" text-anchor="middle" stroke="#000" stroke-width="0.3">@WVNWE64</text><text x="603.3 609.7 616.1 622.6 629.0 635.4 641.8" y="326.8" font-size="8.4" font-family="Liberation Sans, sans-serif" font-weight="400" text-anchor="middle" stroke="#000" stroke-width="0.3">(35,95)</text><text x="603.3 609.7 616.1 622.6 629.0 635.4 641.8 648.2 654.7 661.1 667.5 673.9" y="340" font-size="8.4" font-family="Liberation Sans, sans-serif" font-weight="400" text-anchor="middle" stroke="#000" stroke-width="0.3">@FREQ200–100</text><text x="603.3 609.7 616.1 622.6 629.0 635.4" y="353.4" font-size="8.4" font-family="Liberation Sans, sans-serif" font-weight="400" text-anchor="middle" stroke="#000" stroke-width="0.3">(1,50)</text><text x="603.3 609.7 616.1 622.6 629.0" y="366.9" font-size="8.4" font-family="Liberation Sans, sans-serif" font-weight="400" text-anchor="middle" stroke="#000" stroke-width="0.3">–999.</text><text x="603.3 609.7 616.1 622.6 629.0" y="380.3" font-size="8.4" font-family="Liberation Sans, sans-serif" font-weight="400" text-anchor="middle" stroke="#000" stroke-width="0.3">–999.</text><text x="603.3 609.7 616.1 622.6 629.0" y="393.6" font-size="8.4" font-family="Liberation Sans, sans-serif" font-weight="400" text-anchor="middle" stroke="#000" stroke-width="0.3">–999.</text><text x="603.3 609.7 616.1 622.6 629.0" y="406.5" font-size="8.4" font-family="Liberation Sans, sans-serif" font-weight="400" text-anchor="middle" stroke="#000" stroke-width="0.3">–999.</text><text x="603.3 609.7 616.1 622.6 629.0 635.4 641.8 648.2 673.9 680.3 686.8 693.2" y="419.7" font-size="8.4" font-family="Liberation Sans, sans-serif" font-weight="400" text-anchor="middle" stroke="#000" stroke-width="0.3">200307052516</text><text x="603.3 609.7 616.1 622.6 629.0 635.4" y="434" font-size="8.4" font-family="Liberation Sans, sans-serif" font-weight="400" text-anchor="middle" stroke="#000" stroke-width="0.3">yukiko</text><text x="143.8 149.0 154.1 159.3" y="487" font-size="7.2" font-family="Liberation Sans, sans-serif" font-weight="400" text-anchor="middle" stroke="#000" stroke-width="0.3">0.01</text><text x="189.4 194.6 199.7 204.9" y="487" font-size="7.2" font-family="Liberation Sans, sans-serif" font-weight="400" text-anchor="middle" stroke="#000" stroke-width="0.3">1.00</text><text x="101.2" y="487" font-size="7.5" font-family="DejaVu Sans, sans-serif" font-weight="700">−</text><text x="104.6" y="487.3" font-size="8.5" font-family="DejaVu Sans, sans-serif" font-weight="700">∞</text><text x="262.6" y="487.3" font-size="8.5" font-family="DejaVu Sans, sans-serif" font-weight="700">∞</text></g>
<g shape-rendering="crispEdges"><rect x="105" y="463" width="23" height="16" fill="#0000ff"/><rect x="128" y="463" width="23" height="16" fill="#00aaff"/><rect x="151" y="463" width="23" height="16" fill="#00ffaa"/><rect x="174" y="463" width="23" height="16" fill="#00ff00"/><rect x="197" y="463" width="23" height="16" fill="#ffff00"/><rect x="220" y="463" width="23" height="16" fill="#ffa500"/><rect x="243" y="463" width="23" height="16" fill="#ff0000"/><rect x="105" y="469" width="1" height="10" fill="#000"/><rect x="128" y="469" width="1" height="10" fill="#000"/><rect x="151" y="469" width="1" height="10" fill="#000"/><rect x="174" y="469" width="1" height="10" fill="#000"/><rect x="197" y="469" width="1" height="10" fill="#000"/><rect x="220" y="469" width="1" height="10" fill="#000"/><rect x="243" y="469" width="1" height="10" fill="#000"/><rect x="265" y="469" width="1" height="10" fill="#000"/><rect x="105" y="478" width="161" height="1" fill="#000"/></g>
</svg>
</body></html>
